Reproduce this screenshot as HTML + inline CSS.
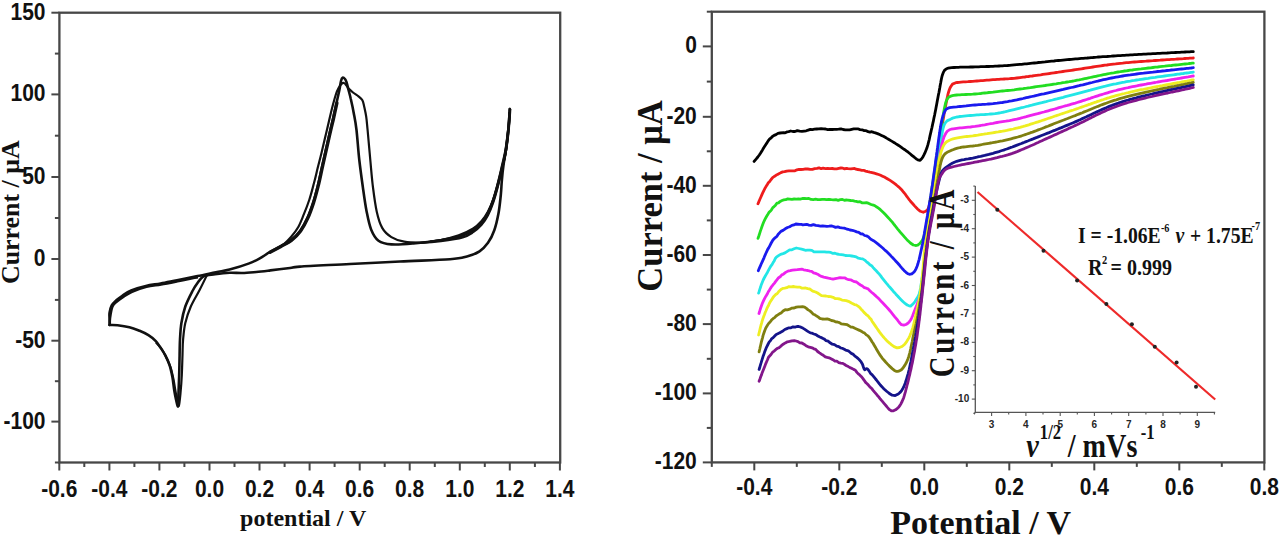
<!DOCTYPE html>
<html><head><meta charset="utf-8"><title>CV plots</title>
<style>
html,body{margin:0;padding:0;background:#fff;}
body{width:1280px;height:545px;overflow:hidden;}
svg{display:block;}
.tl{font-family:"Liberation Sans",sans-serif;font-weight:bold;font-size:21px;fill:#111;}
.ttl{font-family:"Liberation Serif",serif;font-weight:bold;fill:#111;}
.it{font-family:"Liberation Sans",sans-serif;font-weight:bold;font-size:10px;fill:#262626;}
</style></head>
<body>
<svg width="1280" height="545" viewBox="0 0 1280 545">
<rect width="1280" height="545" fill="#fff"/>
<rect x="59.4" y="12.7" width="500.8" height="449.8" fill="none" stroke="#474747" stroke-width="2.3"/>
<line x1="59.3" y1="462.5" x2="59.3" y2="470.5" stroke="#474747" stroke-width="2"/>
<text transform="translate(59.3 496.6) scale(1 1.14)" class="tl" text-anchor="middle">-0.6</text>
<line x1="84.3" y1="462.5" x2="84.3" y2="467.0" stroke="#474747" stroke-width="2"/>
<line x1="109.4" y1="462.5" x2="109.4" y2="470.5" stroke="#474747" stroke-width="2"/>
<text transform="translate(109.4 496.6) scale(1 1.14)" class="tl" text-anchor="middle">-0.4</text>
<line x1="134.4" y1="462.5" x2="134.4" y2="467.0" stroke="#474747" stroke-width="2"/>
<line x1="159.4" y1="462.5" x2="159.4" y2="470.5" stroke="#474747" stroke-width="2"/>
<text transform="translate(159.4 496.6) scale(1 1.14)" class="tl" text-anchor="middle">-0.2</text>
<line x1="184.4" y1="462.5" x2="184.4" y2="467.0" stroke="#474747" stroke-width="2"/>
<line x1="209.5" y1="462.5" x2="209.5" y2="470.5" stroke="#474747" stroke-width="2"/>
<text transform="translate(209.5 496.6) scale(1 1.14)" class="tl" text-anchor="middle">0.0</text>
<line x1="234.5" y1="462.5" x2="234.5" y2="467.0" stroke="#474747" stroke-width="2"/>
<line x1="259.5" y1="462.5" x2="259.5" y2="470.5" stroke="#474747" stroke-width="2"/>
<text transform="translate(259.5 496.6) scale(1 1.14)" class="tl" text-anchor="middle">0.2</text>
<line x1="284.6" y1="462.5" x2="284.6" y2="467.0" stroke="#474747" stroke-width="2"/>
<line x1="309.6" y1="462.5" x2="309.6" y2="470.5" stroke="#474747" stroke-width="2"/>
<text transform="translate(309.6 496.6) scale(1 1.14)" class="tl" text-anchor="middle">0.4</text>
<line x1="334.6" y1="462.5" x2="334.6" y2="467.0" stroke="#474747" stroke-width="2"/>
<line x1="359.7" y1="462.5" x2="359.7" y2="470.5" stroke="#474747" stroke-width="2"/>
<text transform="translate(359.7 496.6) scale(1 1.14)" class="tl" text-anchor="middle">0.6</text>
<line x1="384.7" y1="462.5" x2="384.7" y2="467.0" stroke="#474747" stroke-width="2"/>
<line x1="409.7" y1="462.5" x2="409.7" y2="470.5" stroke="#474747" stroke-width="2"/>
<text transform="translate(409.7 496.6) scale(1 1.14)" class="tl" text-anchor="middle">0.8</text>
<line x1="434.8" y1="462.5" x2="434.8" y2="467.0" stroke="#474747" stroke-width="2"/>
<line x1="459.8" y1="462.5" x2="459.8" y2="470.5" stroke="#474747" stroke-width="2"/>
<text transform="translate(459.8 496.6) scale(1 1.14)" class="tl" text-anchor="middle">1.0</text>
<line x1="484.8" y1="462.5" x2="484.8" y2="467.0" stroke="#474747" stroke-width="2"/>
<line x1="509.8" y1="462.5" x2="509.8" y2="470.5" stroke="#474747" stroke-width="2"/>
<text transform="translate(509.8 496.6) scale(1 1.14)" class="tl" text-anchor="middle">1.2</text>
<line x1="534.9" y1="462.5" x2="534.9" y2="467.0" stroke="#474747" stroke-width="2"/>
<line x1="559.9" y1="462.5" x2="559.9" y2="470.5" stroke="#474747" stroke-width="2"/>
<text transform="translate(559.9 496.6) scale(1 1.14)" class="tl" text-anchor="middle">1.4</text>
<line x1="51.4" y1="12.7" x2="59.4" y2="12.7" stroke="#474747" stroke-width="2"/>
<text transform="translate(45.5 19.6) scale(1 1.14)" class="tl" text-anchor="end">150</text>
<line x1="54.9" y1="53.6" x2="59.4" y2="53.6" stroke="#474747" stroke-width="2"/>
<line x1="51.4" y1="94.4" x2="59.4" y2="94.4" stroke="#474747" stroke-width="2"/>
<text transform="translate(45.5 101.3) scale(1 1.14)" class="tl" text-anchor="end">100</text>
<line x1="54.9" y1="135.7" x2="59.4" y2="135.7" stroke="#474747" stroke-width="2"/>
<line x1="51.4" y1="177.0" x2="59.4" y2="177.0" stroke="#474747" stroke-width="2"/>
<text transform="translate(45.5 183.9) scale(1 1.14)" class="tl" text-anchor="end">50</text>
<line x1="54.9" y1="218.0" x2="59.4" y2="218.0" stroke="#474747" stroke-width="2"/>
<line x1="51.4" y1="259.0" x2="59.4" y2="259.0" stroke="#474747" stroke-width="2"/>
<text transform="translate(45.5 265.9) scale(1 1.14)" class="tl" text-anchor="end">0</text>
<line x1="54.9" y1="299.9" x2="59.4" y2="299.9" stroke="#474747" stroke-width="2"/>
<line x1="51.4" y1="340.7" x2="59.4" y2="340.7" stroke="#474747" stroke-width="2"/>
<text transform="translate(45.5 347.6) scale(1 1.14)" class="tl" text-anchor="end">-50</text>
<line x1="54.9" y1="381.2" x2="59.4" y2="381.2" stroke="#474747" stroke-width="2"/>
<line x1="51.4" y1="421.6" x2="59.4" y2="421.6" stroke="#474747" stroke-width="2"/>
<text transform="translate(45.5 428.5) scale(1 1.14)" class="tl" text-anchor="end">-100</text>
<line x1="54.9" y1="462.5" x2="59.4" y2="462.5" stroke="#474747" stroke-width="2"/>
<text x="303.2" y="525.6" class="ttl" font-size="24" text-anchor="middle">potential / V</text>
<text transform="translate(18.5 212.2) rotate(-90)" class="ttl" font-size="25.9" text-anchor="middle">Current / &#956;A</text>
<path d="M509.8 109.0 C509.6 112.2 509.1 121.2 508.5 128.0 C507.9 134.8 506.7 143.8 505.9 150.0 C505.1 156.2 504.2 160.0 503.5 165.0 C502.8 170.0 502.3 175.0 501.9 180.0 C501.4 185.0 501.4 189.4 500.8 195.0 C500.2 200.6 499.6 207.4 498.5 213.3 C497.4 219.2 496.1 225.3 494.3 230.2 C492.6 235.1 490.5 239.3 488.0 242.8 C485.5 246.3 483.0 249.0 479.5 251.3 C476.0 253.6 471.8 255.2 466.9 256.5 C462.0 257.8 461.1 258.5 450.0 259.3 C438.9 260.1 416.7 260.7 400.0 261.5 C383.3 262.3 366.7 263.1 350.0 264.0 C333.3 264.9 310.0 265.9 300.0 266.6 C290.0 267.3 294.9 267.4 290.0 268.0 C285.1 268.6 275.9 269.7 270.3 270.4 C264.7 271.1 261.0 271.6 256.3 272.0 C251.6 272.4 246.6 272.9 242.2 273.0 C237.8 273.1 234.1 272.6 229.6 272.8 C225.1 273.0 219.3 273.7 215.0 274.3 C210.7 274.9 206.4 274.9 203.5 276.3 C200.6 277.8 199.3 280.6 197.5 283.0 C195.7 285.4 194.5 287.1 192.5 291.0 C190.5 294.9 187.2 301.2 185.3 306.5 C183.5 311.8 182.3 317.5 181.4 323.0 C180.5 328.5 180.3 334.2 180.0 339.5 C179.7 344.8 179.7 349.9 179.6 355.0 C179.5 360.1 179.4 365.0 179.3 370.0 C179.2 375.0 179.0 380.3 178.8 385.0 C178.6 389.7 178.4 394.4 178.3 398.0 C178.2 401.6 178.4 406.3 178.0 406.5 C177.6 406.7 176.5 401.8 175.9 399.0 C175.3 396.2 174.8 393.7 174.2 390.0 C173.6 386.3 173.2 381.1 172.4 377.0 C171.6 372.9 170.8 368.9 169.6 365.3 C168.4 361.8 167.0 358.6 165.5 355.7 C164.0 352.8 162.2 350.2 160.6 347.8 C159.0 345.4 157.8 343.2 155.8 341.1 C153.8 339.0 151.1 336.9 148.4 335.2 C145.7 333.5 142.8 332.1 139.6 330.8 C136.4 329.5 133.1 328.1 129.4 327.2 C125.7 326.3 120.9 325.6 117.6 325.2 C114.3 324.8 110.8 325.0 109.5 325.0" fill="none" stroke="#111" stroke-width="2.6" stroke-linejoin="round" stroke-linecap="round"/>
<path d="M109.5 325.0 C109.5 323.8 109.5 320.1 109.5 318.0 C109.5 315.9 109.2 314.6 109.6 312.5 C110.0 310.4 110.6 307.5 111.7 305.5 C112.8 303.5 114.4 302.1 116.1 300.5 C117.8 298.9 119.5 297.7 122.0 296.0 C124.5 294.3 127.2 292.1 131.2 290.4 C135.2 288.7 141.0 287.0 145.9 285.9 C150.8 284.8 155.4 284.4 160.6 283.5 C165.8 282.6 170.8 281.5 177.0 280.3 C183.2 279.1 191.0 277.5 197.5 276.1 C204.0 274.8 210.6 273.3 215.9 272.2 C221.2 271.1 224.1 271.1 229.6 269.6 C235.1 268.1 244.2 265.3 249.2 263.4 C254.2 261.5 256.4 260.3 259.8 258.4 C263.2 256.5 266.2 254.2 269.7 252.2 C273.1 250.2 276.9 248.4 280.5 246.4 C284.1 244.4 287.7 243.0 291.0 240.4 C294.3 237.8 297.4 234.8 300.2 231.0 C302.9 227.2 305.4 222.5 307.5 217.9 C309.6 213.3 311.3 208.4 313.0 203.2 C314.7 198.0 316.2 192.2 317.6 186.7 C319.0 181.2 320.1 175.7 321.3 170.2 C322.5 164.7 323.7 159.4 325.0 153.7 C326.3 148.0 327.7 141.8 329.0 136.0 C330.3 130.2 331.8 124.5 333.0 119.0 C334.2 113.5 335.4 107.8 336.5 103.0 C337.6 98.2 338.6 93.7 339.4 90.0 C340.1 86.3 340.5 83.0 341.0 81.0 C341.5 79.0 341.9 78.0 342.6 77.7 C343.3 77.4 344.3 78.2 345.0 79.0 C345.7 79.8 346.0 80.8 346.6 82.5 C347.2 84.2 347.7 86.8 348.4 89.5 C349.1 92.2 349.9 94.8 350.8 99.0 C351.8 103.2 353.2 109.8 354.1 115.0 C355.1 120.2 355.6 122.5 356.5 130.0 C357.4 137.5 358.2 150.4 359.3 160.0 C360.4 169.6 361.7 178.9 362.9 187.5 C364.1 196.1 365.2 204.4 366.6 211.4 C368.0 218.4 369.2 224.8 371.2 229.7 C373.2 234.6 375.1 238.2 378.5 240.7 C381.9 243.1 385.6 243.9 391.4 244.4 C397.2 244.9 405.1 244.2 413.4 243.5 C421.6 242.8 432.7 241.5 440.9 240.2 C449.1 238.8 457.3 237.0 462.7 235.4 C468.1 233.8 470.0 232.6 473.2 230.5 C476.4 228.4 479.1 225.9 481.6 223.0 C484.1 220.1 486.1 217.0 488.0 213.3 C489.9 209.6 491.6 205.2 493.2 200.6 C494.8 196.0 496.1 191.2 497.5 185.9 C498.9 180.6 500.3 175.0 501.7 169.0 C503.1 163.0 504.8 156.8 505.9 150.0 C507.0 143.2 507.9 134.8 508.5 128.0 C509.1 121.2 509.6 112.2 509.8 109.0" fill="none" stroke="#111" stroke-width="2.6" stroke-linejoin="round" stroke-linecap="round"/>
<path d="M276.0 249.4 C277.3 248.5 281.5 246.1 284.0 244.0 C286.5 241.9 288.6 239.8 291.0 237.0 C293.4 234.2 296.2 230.8 298.3 227.0 C300.4 223.2 302.0 218.8 303.9 214.2 C305.8 209.6 307.7 204.7 309.4 199.5 C311.1 194.3 312.6 188.2 314.0 183.0 C315.4 177.8 316.4 173.2 317.6 168.3 C318.8 163.4 320.1 158.8 321.3 153.7 C322.5 148.6 323.7 143.4 325.0 138.0 C326.3 132.6 327.7 126.6 329.0 121.0 C330.3 115.4 331.8 109.0 333.0 104.5 C334.2 100.0 335.1 96.8 336.0 94.0 C336.9 91.2 337.7 89.7 338.6 88.0 C339.5 86.3 340.6 84.8 341.5 84.0 C342.4 83.2 343.2 82.8 344.0 83.0 C344.8 83.2 345.7 84.6 346.5 85.5 C347.3 86.4 347.5 87.4 348.6 88.6 C349.7 89.8 351.4 91.2 353.0 92.5 C354.6 93.8 356.9 95.1 358.5 96.4 C360.1 97.7 361.5 98.7 362.4 100.2 C363.3 101.8 363.4 103.0 364.0 105.7 C364.6 108.5 365.6 112.7 366.2 116.7 C366.8 120.8 366.9 122.8 367.6 130.0 C368.3 137.2 369.4 150.4 370.3 160.0 C371.2 169.6 371.9 178.9 373.0 187.5 C374.1 196.1 375.2 204.7 376.7 211.4 C378.2 218.1 379.8 223.6 382.2 227.9 C384.6 232.2 387.7 234.8 391.4 237.1 C395.1 239.4 399.0 240.8 404.2 241.7 C409.4 242.6 416.5 242.7 422.6 242.6 C428.7 242.5 434.2 242.1 440.9 241.2 C447.6 240.3 457.3 238.9 462.7 237.4 C468.1 235.9 470.0 234.3 473.2 232.2 C476.4 230.1 479.1 227.6 481.6 224.8 C484.1 222.0 486.1 219.0 488.0 215.3 C489.9 211.6 491.6 207.2 493.2 202.6 C494.8 198.0 496.1 193.2 497.5 187.9 C498.9 182.6 500.3 177.2 501.7 171.0 C503.1 164.8 504.7 158.7 505.9 151.0 C507.1 143.3 508.1 131.5 508.8 125.0 C509.5 118.5 509.6 114.2 509.8 112.0" fill="none" stroke="#111" stroke-width="2.2" stroke-linejoin="round"/>
<path d="M207.0 275.0 C205.8 277.5 202.3 284.8 199.6 290.0 C196.9 295.2 193.2 301.0 190.8 306.5 C188.4 312.0 186.6 317.5 185.3 323.0 C184.0 328.5 183.6 334.2 183.1 339.5 C182.6 344.8 182.7 349.1 182.5 355.0 C182.3 360.9 182.1 368.8 181.8 375.0 C181.5 381.2 181.1 386.8 180.6 392.0 C180.1 397.2 179.4 405.0 178.8 406.0 C178.2 407.0 177.4 400.8 176.8 398.0 C176.2 395.2 175.7 392.3 175.1 389.0 C174.5 385.7 174.0 381.7 173.2 378.0 C172.4 374.3 171.7 370.4 170.5 367.0 C169.3 363.6 167.6 360.4 166.2 357.5 C164.8 354.6 163.7 352.0 162.0 349.5 C160.3 347.0 157.0 343.7 156.0 342.5" fill="none" stroke="#111" stroke-width="2.2" stroke-linejoin="round"/>
<path d="M110.0 324.5 C110.0 323.4 109.8 321.0 110.2 318.0 C110.6 315.0 111.5 309.2 112.6 306.5 C113.7 303.8 115.3 303.2 117.0 301.7 C118.7 300.2 120.5 298.9 123.0 297.3 C125.5 295.7 128.1 293.7 132.0 292.0 C135.9 290.3 141.7 288.2 146.5 287.0 C151.3 285.8 155.8 285.5 161.0 284.6 C166.2 283.7 171.3 282.7 177.5 281.5 C183.7 280.3 194.6 278.0 198.0 277.3" fill="none" stroke="#111" stroke-width="2.2" stroke-linejoin="round"/>
<path d="M420.0 243.0 C423.5 242.5 434.4 241.3 440.9 240.0 C447.3 238.7 453.3 237.2 458.7 235.3 C464.1 233.4 469.4 230.9 473.2 228.5 C477.0 226.1 479.1 223.8 481.6 221.0 C484.1 218.2 486.0 215.2 488.0 211.5 C490.0 207.8 491.9 203.2 493.6 198.6 C495.3 194.0 496.6 189.2 498.0 183.9 C499.4 178.6 500.9 173.0 502.3 167.0 C503.7 161.0 505.4 154.7 506.5 148.0 C507.6 141.3 508.4 133.5 509.0 127.0 C509.6 120.5 510.1 112.0 510.3 109.0" fill="none" stroke="#111" stroke-width="2.2" stroke-linejoin="round"/>
<path d="M430.0 241.5 C433.3 241.0 444.6 239.7 450.0 238.5 C455.4 237.3 458.8 236.1 462.7 234.6 C466.6 233.1 470.0 231.5 473.2 229.4 C476.4 227.3 479.1 224.8 481.6 222.0 C484.1 219.2 486.1 216.0 488.0 212.3 C489.9 208.6 491.5 204.2 493.0 199.6 C494.5 195.0 495.8 190.3 497.2 185.0 C498.6 179.7 499.9 174.0 501.3 168.0 C502.7 162.0 504.4 155.7 505.5 149.0 C506.6 142.3 507.5 134.2 508.2 128.0 C508.9 121.8 509.4 114.7 509.6 112.0" fill="none" stroke="#111" stroke-width="2.0"/>
<path d="M270.1 252.2 C271.9 251.2 277.3 248.4 280.9 246.4 C284.4 244.4 288.1 243.0 291.4 240.4 C294.7 237.8 297.8 234.8 300.6 231.0 C303.3 227.2 305.8 222.5 307.9 217.9 C310.0 213.3 311.7 208.4 313.4 203.2 C315.1 198.0 316.6 192.2 318.0 186.7 C319.4 181.2 320.5 175.7 321.7 170.2 C322.9 164.7 324.1 159.4 325.4 153.7 C326.7 148.0 328.1 141.8 329.4 136.0 C330.7 130.2 332.1 124.5 333.4 119.0 C334.6 113.5 336.3 105.7 336.9 103.0" fill="none" stroke="#111" stroke-width="3.4" stroke-linecap="round"/>
<rect x="711.8" y="11.7" width="552.6" height="450.7" fill="none" stroke="#474747" stroke-width="2.3"/>
<line x1="711.8" y1="462.4" x2="711.8" y2="466.9" stroke="#474747" stroke-width="2"/>
<line x1="754.3" y1="462.4" x2="754.3" y2="470.4" stroke="#474747" stroke-width="2"/>
<text transform="translate(754.3 494.6) scale(1 1.14)" class="tl" text-anchor="middle">-0.4</text>
<line x1="796.8" y1="462.4" x2="796.8" y2="466.9" stroke="#474747" stroke-width="2"/>
<line x1="839.3" y1="462.4" x2="839.3" y2="470.4" stroke="#474747" stroke-width="2"/>
<text transform="translate(839.3 494.6) scale(1 1.14)" class="tl" text-anchor="middle">-0.2</text>
<line x1="881.8" y1="462.4" x2="881.8" y2="466.9" stroke="#474747" stroke-width="2"/>
<line x1="924.3" y1="462.4" x2="924.3" y2="470.4" stroke="#474747" stroke-width="2"/>
<text transform="translate(924.3 494.6) scale(1 1.14)" class="tl" text-anchor="middle">0.0</text>
<line x1="966.8" y1="462.4" x2="966.8" y2="466.9" stroke="#474747" stroke-width="2"/>
<line x1="1009.3" y1="462.4" x2="1009.3" y2="470.4" stroke="#474747" stroke-width="2"/>
<text transform="translate(1009.3 494.6) scale(1 1.14)" class="tl" text-anchor="middle">0.2</text>
<line x1="1051.8" y1="462.4" x2="1051.8" y2="466.9" stroke="#474747" stroke-width="2"/>
<line x1="1094.3" y1="462.4" x2="1094.3" y2="470.4" stroke="#474747" stroke-width="2"/>
<text transform="translate(1094.3 494.6) scale(1 1.14)" class="tl" text-anchor="middle">0.4</text>
<line x1="1136.8" y1="462.4" x2="1136.8" y2="466.9" stroke="#474747" stroke-width="2"/>
<line x1="1179.3" y1="462.4" x2="1179.3" y2="470.4" stroke="#474747" stroke-width="2"/>
<text transform="translate(1179.3 494.6) scale(1 1.14)" class="tl" text-anchor="middle">0.6</text>
<line x1="1221.8" y1="462.4" x2="1221.8" y2="466.9" stroke="#474747" stroke-width="2"/>
<line x1="1264.3" y1="462.4" x2="1264.3" y2="470.4" stroke="#474747" stroke-width="2"/>
<text transform="translate(1264.3 494.6) scale(1 1.14)" class="tl" text-anchor="middle">0.8</text>
<line x1="706.8" y1="11.7" x2="711.8" y2="11.7" stroke="#474747" stroke-width="2"/>
<line x1="702.8" y1="46.4" x2="711.8" y2="46.4" stroke="#474747" stroke-width="2"/>
<text transform="translate(696.8 53.3) scale(1 1.14)" class="tl" text-anchor="end">0</text>
<line x1="706.8" y1="81.6" x2="711.8" y2="81.6" stroke="#474747" stroke-width="2"/>
<line x1="702.8" y1="116.8" x2="711.8" y2="116.8" stroke="#474747" stroke-width="2"/>
<text transform="translate(696.8 123.7) scale(1 1.14)" class="tl" text-anchor="end">-20</text>
<line x1="706.8" y1="151.3" x2="711.8" y2="151.3" stroke="#474747" stroke-width="2"/>
<line x1="702.8" y1="185.8" x2="711.8" y2="185.8" stroke="#474747" stroke-width="2"/>
<text transform="translate(696.8 192.8) scale(1 1.14)" class="tl" text-anchor="end">-40</text>
<line x1="706.8" y1="220.4" x2="711.8" y2="220.4" stroke="#474747" stroke-width="2"/>
<line x1="702.8" y1="255.0" x2="711.8" y2="255.0" stroke="#474747" stroke-width="2"/>
<text transform="translate(696.8 261.9) scale(1 1.14)" class="tl" text-anchor="end">-60</text>
<line x1="706.8" y1="289.6" x2="711.8" y2="289.6" stroke="#474747" stroke-width="2"/>
<line x1="702.8" y1="324.1" x2="711.8" y2="324.1" stroke="#474747" stroke-width="2"/>
<text transform="translate(696.8 331.0) scale(1 1.14)" class="tl" text-anchor="end">-80</text>
<line x1="706.8" y1="358.8" x2="711.8" y2="358.8" stroke="#474747" stroke-width="2"/>
<line x1="702.8" y1="393.4" x2="711.8" y2="393.4" stroke="#474747" stroke-width="2"/>
<text transform="translate(696.8 400.3) scale(1 1.14)" class="tl" text-anchor="end">-100</text>
<line x1="706.8" y1="427.9" x2="711.8" y2="427.9" stroke="#474747" stroke-width="2"/>
<line x1="702.8" y1="462.4" x2="711.8" y2="462.4" stroke="#474747" stroke-width="2"/>
<text transform="translate(696.8 469.3) scale(1 1.14)" class="tl" text-anchor="end">-120</text>
<text x="980.7" y="533.6" class="ttl" font-size="34" text-anchor="middle">Potential / V</text>
<text transform="translate(661.8 196.0) rotate(-90) scale(1 1.03)" class="ttl" font-size="34.5" text-anchor="middle">Current / &#956;A</text>
<path d="M754.1 161.4 L755.0 160.3 L756.3 158.8 L757.8 157.0 L759.3 155.0 L760.3 153.5 L761.4 151.7 L762.5 149.9 L763.6 148.0 L764.7 146.3 L765.7 144.7 L767.1 142.6 L768.3 140.7 L769.5 139.2 L770.8 138.2 L772.4 136.5 L774.1 135.4 L776.0 134.6 L777.9 133.4 L780.1 133.0 L783.7 132.7 L785.2 132.8 L786.9 131.9 L788.7 131.6 L790.7 131.0 L792.8 131.5 L795.0 131.5 L797.3 130.6 L799.6 131.2 L801.9 131.4 L804.2 131.1 L806.2 130.8 L808.2 130.1 L810.3 129.4 L812.4 129.7 L814.5 129.2 L816.7 129.0 L818.9 128.9 L821.1 128.6 L823.4 128.9 L825.6 129.0 L827.7 129.6 L829.9 129.4 L832.1 129.5 L834.3 129.3 L836.5 129.4 L838.7 129.2 L840.9 128.8 L843.1 129.5 L845.3 129.8 L847.5 129.9 L849.6 129.8 L851.7 129.3 L853.7 128.9 L855.6 128.9 L857.8 128.8 L860.0 129.6 L862.1 129.8 L864.2 130.6 L866.1 130.7 L868.1 131.6 L870.0 132.1 L871.8 131.7 L873.6 132.4 L875.4 132.9 L877.5 133.6 L879.6 134.5 L881.5 135.4 L883.4 136.3 L885.2 137.3 L887.0 138.4 L888.9 139.5 L890.8 140.6 L892.5 141.6 L894.3 142.7 L896.1 143.9 L897.9 145.0 L899.7 146.2 L901.4 147.4 L903.1 148.6 L904.8 149.7 L906.3 150.8 L908.2 152.2 L910.1 153.8 L911.9 155.3 L913.6 156.7 L915.2 158.0 L916.6 159.1 L917.8 159.8 L920.1 160.4 L921.7 158.6 L922.7 157.2 L923.7 155.4 L924.8 153.2 L925.8 150.8 L926.8 148.3 L927.4 146.4 L928.0 144.4 L928.5 142.3 L929.1 140.1 L929.6 137.8 L930.1 135.4 L930.7 132.9 L931.1 131.1 L931.5 129.3 L932.0 127.3 L932.4 125.4 L932.8 123.4 L933.3 121.4 L933.7 119.3 L934.1 117.2 L934.6 115.1 L935.0 113.0 L935.4 111.0 L935.8 109.0 L936.2 106.8 L936.6 104.7 L937.0 102.5 L937.4 100.3 L937.8 98.2 L938.2 96.1 L938.6 94.1 L939.0 92.2 L939.3 90.4 L939.8 87.7 L940.2 85.2 L940.7 82.8 L941.1 80.6 L941.5 78.5 L941.9 76.7 L942.4 75.0 L943.5 72.1 L944.6 70.2 L946.5 68.8 L948.0 68.2 L949.8 67.9 L951.7 67.7 L954.0 67.5 L956.7 67.4 L958.4 67.3 L960.1 67.2 L962.1 67.2 L964.1 67.1 L966.2 67.1 L968.3 67.1 L970.5 67.0 L972.8 67.0 L975.0 66.9 L976.9 66.8 L978.8 66.8 L980.7 66.7 L982.7 66.7 L984.7 66.6 L986.8 66.5 L988.8 66.5 L990.9 66.4 L993.0 66.3 L995.0 66.2 L997.1 66.1 L999.0 66.0 L1000.8 65.9 L1002.5 65.8 L1004.2 65.7 L1005.8 65.6 L1007.6 65.5 L1009.5 65.3 L1011.7 65.1 L1014.1 64.9 L1016.8 64.7 L1020.0 64.4 L1021.5 64.3 L1023.1 64.1 L1024.8 63.9 L1026.6 63.8 L1028.5 63.6 L1030.4 63.4 L1032.3 63.2 L1034.3 63.0 L1036.4 62.8 L1038.5 62.5 L1040.7 62.3 L1042.8 62.1 L1045.0 61.9 L1047.2 61.6 L1049.5 61.4 L1051.7 61.2 L1054.0 61.0 L1056.2 60.7 L1058.4 60.5 L1060.7 60.3 L1062.9 60.1 L1065.1 59.9 L1067.2 59.7 L1069.3 59.5 L1071.4 59.3 L1073.4 59.1 L1075.5 58.9 L1077.4 58.8 L1079.4 58.6 L1081.4 58.4 L1083.3 58.3 L1085.2 58.1 L1087.2 58.0 L1089.1 57.8 L1091.0 57.6 L1092.9 57.5 L1094.9 57.3 L1096.8 57.2 L1098.8 57.0 L1100.8 56.9 L1102.8 56.7 L1104.9 56.6 L1106.9 56.5 L1109.1 56.3 L1111.2 56.2 L1113.4 56.0 L1115.6 55.9 L1117.9 55.7 L1120.3 55.6 L1122.7 55.4 L1124.5 55.3 L1126.4 55.2 L1128.3 55.1 L1130.3 54.9 L1132.4 54.8 L1134.5 54.7 L1136.7 54.6 L1138.9 54.4 L1141.2 54.3 L1143.5 54.2 L1145.9 54.1 L1148.2 53.9 L1150.6 53.8 L1152.9 53.7 L1155.3 53.6 L1157.7 53.4 L1160.0 53.3 L1162.4 53.2 L1164.7 53.1 L1167.0 53.0 L1169.2 52.8 L1171.4 52.7 L1173.6 52.6 L1175.7 52.5 L1177.7 52.4 L1179.7 52.3 L1181.6 52.2 L1183.4 52.1 L1185.1 52.0 L1186.8 51.9 L1188.3 51.9 L1189.7 51.8 L1191.0 51.7 L1192.2 51.7 L1193.3 51.6" fill="none" stroke="#000000" stroke-width="2.8" stroke-linejoin="round" stroke-linecap="round"/>
<path d="M758.0 203.8 L758.5 202.6 L759.1 201.1 L759.9 199.3 L760.8 197.2 L761.7 195.1 L762.7 192.9 L763.7 190.8 L764.7 188.8 L765.7 187.1 L767.0 185.1 L768.3 182.8 L769.7 181.4 L771.1 179.5 L772.6 177.7 L774.2 176.5 L776.0 175.3 L777.6 174.4 L779.2 173.6 L780.9 172.6 L782.7 171.9 L784.6 171.7 L786.7 171.1 L788.9 170.9 L791.4 170.8 L793.2 170.8 L795.0 170.8 L797.0 169.8 L799.0 169.3 L801.1 169.5 L803.3 169.4 L805.5 168.8 L807.8 169.0 L810.1 169.3 L812.4 169.4 L814.7 168.7 L817.1 168.4 L819.0 167.8 L821.1 168.7 L823.2 168.2 L825.4 168.6 L827.7 168.5 L830.0 168.6 L832.2 168.5 L834.5 168.9 L836.7 168.8 L838.8 168.4 L840.9 168.0 L842.9 168.2 L844.7 168.9 L846.4 168.3 L847.9 168.7 L850.9 168.9 L853.0 168.6 L854.6 168.5 L856.0 169.2 L857.7 169.5 L860.0 169.9 L861.7 170.3 L863.6 170.3 L865.6 171.1 L867.8 171.7 L869.9 172.2 L872.1 172.6 L874.3 173.2 L876.5 173.8 L878.6 174.5 L880.6 175.3 L882.5 176.2 L884.4 177.1 L886.4 178.2 L888.2 179.3 L890.1 180.4 L891.9 181.6 L893.7 182.9 L895.4 184.1 L897.0 185.5 L898.6 186.8 L900.1 188.2 L901.6 189.7 L902.9 191.4 L904.3 193.0 L905.6 194.7 L906.8 196.4 L908.0 198.0 L909.2 199.6 L910.3 201.0 L911.4 202.3 L913.2 204.3 L914.8 206.1 L916.4 207.8 L917.8 209.2 L919.2 210.4 L920.4 211.3 L923.3 212.3 L925.6 211.3 L926.9 210.5 L928.1 208.9 L929.4 204.8 L929.7 203.5 L930.0 202.1 L930.3 200.5 L930.6 198.8 L931.0 197.0 L931.3 195.0 L931.6 193.0 L932.0 190.9 L932.3 188.8 L932.7 186.6 L933.0 184.3 L933.4 182.0 L933.8 179.7 L934.1 177.3 L934.5 175.0 L934.8 173.2 L935.1 171.4 L935.4 169.5 L935.7 167.5 L935.9 165.5 L936.2 163.5 L936.6 161.4 L936.9 159.3 L937.2 157.2 L937.5 155.1 L937.8 153.0 L938.1 150.8 L938.4 148.7 L938.7 146.7 L939.0 144.6 L939.3 142.6 L939.6 140.6 L939.9 138.7 L940.2 136.8 L940.5 135.0 L940.9 132.6 L941.3 130.3 L941.7 127.9 L942.1 125.6 L942.5 123.3 L942.9 121.0 L943.3 118.8 L943.7 116.7 L944.0 114.6 L944.4 112.6 L944.8 110.7 L945.1 108.8 L945.4 107.1 L945.7 105.5 L946.0 104.0 L946.6 100.8 L947.1 98.4 L947.5 96.4 L947.8 94.9 L948.2 93.4 L948.6 92.0 L949.4 89.5 L950.2 87.6 L951.2 86.0 L952.5 84.1 L955.8 82.7 L957.3 82.5 L959.0 82.3 L961.0 82.1 L963.2 81.9 L965.5 81.8 L967.8 81.7 L970.3 81.5 L972.7 81.4 L975.0 81.2 L976.9 81.0 L978.8 80.9 L980.8 80.7 L982.8 80.6 L984.8 80.4 L986.8 80.2 L988.9 80.1 L990.9 79.9 L993.0 79.7 L995.0 79.6 L997.1 79.4 L999.0 79.3 L1000.8 79.1 L1002.5 79.1 L1004.2 79.0 L1005.8 78.9 L1007.6 78.8 L1009.5 78.7 L1011.7 78.5 L1014.1 78.3 L1016.8 78.0 L1020.0 77.6 L1021.5 77.4 L1023.1 77.2 L1024.8 77.0 L1026.6 76.7 L1028.5 76.5 L1030.4 76.2 L1032.3 76.0 L1034.3 75.7 L1036.4 75.4 L1038.5 75.1 L1040.7 74.8 L1042.8 74.4 L1045.0 74.1 L1047.2 73.8 L1049.5 73.5 L1051.7 73.1 L1054.0 72.8 L1056.2 72.5 L1058.4 72.2 L1060.7 71.8 L1062.9 71.5 L1065.1 71.2 L1067.2 70.9 L1069.3 70.6 L1071.4 70.3 L1073.4 70.0 L1075.5 69.7 L1077.4 69.4 L1079.4 69.1 L1081.4 68.8 L1083.3 68.5 L1085.2 68.2 L1087.2 67.9 L1089.1 67.6 L1091.0 67.3 L1092.9 67.0 L1094.9 66.7 L1096.8 66.4 L1098.8 66.1 L1100.8 65.8 L1102.8 65.5 L1104.9 65.2 L1106.9 65.0 L1109.1 64.7 L1111.2 64.4 L1113.4 64.1 L1115.6 63.9 L1117.9 63.6 L1120.3 63.3 L1122.7 63.1 L1124.5 62.9 L1126.4 62.7 L1128.3 62.6 L1130.3 62.4 L1132.4 62.2 L1134.5 62.0 L1136.7 61.9 L1138.9 61.7 L1141.2 61.5 L1143.5 61.3 L1145.9 61.2 L1148.2 61.0 L1150.6 60.8 L1152.9 60.7 L1155.3 60.5 L1157.7 60.3 L1160.0 60.2 L1162.4 60.0 L1164.7 59.9 L1167.0 59.7 L1169.2 59.6 L1171.4 59.4 L1173.6 59.3 L1175.7 59.2 L1177.7 59.0 L1179.7 58.9 L1181.6 58.8 L1183.4 58.7 L1185.1 58.5 L1186.8 58.4 L1188.3 58.3 L1189.7 58.2 L1191.0 58.2 L1192.2 58.1 L1193.3 58.0" fill="none" stroke="#ee1c1c" stroke-width="2.8" stroke-linejoin="round" stroke-linecap="round"/>
<path d="M758.0 238.4 L758.4 237.2 L759.0 235.5 L759.6 233.6 L760.3 231.4 L761.1 229.1 L761.9 226.7 L762.8 224.3 L763.7 222.0 L764.7 219.8 L765.7 217.9 L766.8 216.1 L767.9 214.3 L769.0 212.4 L770.2 211.3 L771.5 209.8 L772.8 207.6 L774.1 206.6 L775.5 205.2 L777.0 203.2 L778.5 202.9 L780.2 201.4 L782.0 200.5 L783.8 199.9 L785.7 199.7 L787.7 198.9 L789.7 199.1 L791.9 199.3 L794.1 199.0 L796.5 199.1 L798.4 198.9 L800.3 199.1 L802.4 198.5 L804.5 198.5 L806.7 198.7 L808.9 198.4 L811.1 199.4 L813.3 199.6 L815.6 199.2 L817.8 199.6 L820.0 199.7 L822.2 199.4 L824.4 199.3 L826.6 199.6 L828.9 199.3 L831.3 199.7 L833.6 199.9 L835.9 199.6 L838.2 200.3 L840.3 199.7 L842.4 199.5 L844.4 200.3 L846.2 200.0 L847.9 200.1 L850.7 200.5 L852.8 200.7 L854.6 201.1 L856.2 201.4 L857.9 201.8 L860.0 201.7 L862.0 202.8 L864.2 202.8 L866.5 202.7 L868.8 203.4 L871.1 204.5 L873.3 205.1 L875.4 206.1 L877.1 207.2 L878.8 208.4 L880.4 209.7 L882.0 211.2 L883.6 212.7 L885.1 214.3 L886.7 216.0 L888.3 217.7 L889.6 219.1 L890.9 220.6 L892.3 222.2 L893.6 223.9 L894.9 225.5 L896.2 227.2 L897.5 228.8 L898.8 230.3 L900.0 231.8 L901.1 233.1 L902.9 235.2 L904.6 237.1 L906.2 238.9 L907.7 240.5 L909.1 241.8 L910.4 243.0 L913.3 245.0 L915.6 245.5 L917.7 245.2 L919.8 243.5 L920.9 242.2 L922.1 240.7 L923.2 238.5 L924.3 235.5 L924.7 234.0 L925.1 232.5 L925.4 230.9 L925.7 229.1 L926.1 227.2 L926.4 225.2 L926.7 223.0 L927.1 220.5 L927.5 217.9 L928.0 215.0 L928.2 213.4 L928.5 211.8 L928.8 210.1 L929.1 208.2 L929.3 206.4 L929.6 204.4 L929.9 202.4 L930.2 200.4 L930.5 198.3 L930.9 196.2 L931.2 194.1 L931.5 191.9 L931.8 189.8 L932.1 187.6 L932.4 185.5 L932.8 183.3 L933.1 181.2 L933.4 179.1 L933.7 177.0 L934.0 175.0 L934.3 173.0 L934.6 170.9 L934.9 168.9 L935.2 166.8 L935.5 164.7 L935.8 162.6 L936.2 160.5 L936.5 158.4 L936.8 156.3 L937.1 154.2 L937.4 152.1 L937.7 150.1 L938.0 148.0 L938.3 146.0 L938.6 144.1 L938.9 142.2 L939.2 140.3 L939.5 138.5 L939.7 136.7 L940.0 135.0 L940.4 132.4 L940.8 129.9 L941.2 127.5 L941.6 125.1 L941.9 122.8 L942.3 120.6 L942.6 118.5 L943.0 116.4 L943.3 114.5 L943.6 112.7 L943.9 111.0 L944.2 109.4 L944.5 108.0 L945.3 104.4 L945.8 102.2 L946.4 100.8 L947.0 99.5 L948.2 97.6 L950.0 96.5 L951.5 95.9 L953.5 95.4 L956.7 95.0 L958.2 94.9 L959.9 94.8 L961.8 94.7 L963.8 94.6 L966.0 94.5 L968.2 94.4 L970.5 94.3 L972.7 94.2 L975.0 94.0 L976.9 93.8 L978.8 93.7 L980.7 93.5 L982.7 93.2 L984.7 93.0 L986.8 92.8 L988.8 92.5 L990.9 92.3 L993.0 92.1 L995.0 91.8 L997.1 91.6 L999.0 91.4 L1000.8 91.2 L1002.5 91.0 L1004.2 90.9 L1005.8 90.7 L1007.6 90.5 L1009.5 90.3 L1011.7 90.1 L1014.1 89.8 L1016.8 89.4 L1020.0 89.0 L1021.5 88.8 L1023.1 88.6 L1024.8 88.3 L1026.6 88.1 L1028.5 87.8 L1030.4 87.6 L1032.3 87.3 L1034.3 87.0 L1036.4 86.7 L1038.5 86.4 L1040.7 86.1 L1042.8 85.8 L1045.0 85.5 L1047.2 85.1 L1049.5 84.8 L1051.7 84.5 L1054.0 84.1 L1056.2 83.8 L1058.4 83.4 L1060.7 83.1 L1062.9 82.7 L1065.1 82.4 L1067.2 82.0 L1069.3 81.7 L1071.4 81.3 L1073.4 81.0 L1075.3 80.6 L1077.2 80.2 L1079.1 79.9 L1081.0 79.5 L1082.8 79.1 L1084.7 78.7 L1086.6 78.3 L1088.4 77.9 L1090.3 77.5 L1092.1 77.1 L1094.0 76.7 L1095.9 76.3 L1097.7 75.9 L1099.6 75.5 L1101.6 75.1 L1103.5 74.7 L1105.5 74.3 L1107.5 73.9 L1109.5 73.5 L1111.6 73.1 L1113.7 72.8 L1115.9 72.4 L1118.1 72.0 L1120.4 71.7 L1122.7 71.3 L1124.5 71.0 L1126.4 70.8 L1128.3 70.5 L1130.3 70.2 L1132.4 70.0 L1134.5 69.7 L1136.7 69.4 L1138.9 69.1 L1141.2 68.9 L1143.5 68.6 L1145.9 68.3 L1148.2 68.0 L1150.6 67.8 L1152.9 67.5 L1155.3 67.2 L1157.7 67.0 L1160.0 66.7 L1162.4 66.4 L1164.7 66.2 L1167.0 65.9 L1169.2 65.7 L1171.4 65.5 L1173.6 65.2 L1175.7 65.0 L1177.7 64.8 L1179.7 64.6 L1181.6 64.4 L1183.4 64.2 L1185.1 64.0 L1186.8 63.8 L1188.3 63.7 L1189.7 63.5 L1191.0 63.4 L1192.2 63.2 L1193.3 63.1" fill="none" stroke="#22dd22" stroke-width="2.8" stroke-linejoin="round" stroke-linecap="round"/>
<path d="M758.6 293.1 L759.1 291.7 L759.7 289.6 L760.5 287.3 L761.3 284.7 L762.3 282.2 L763.2 280.0 L764.2 278.0 L765.3 276.0 L766.4 274.1 L767.5 272.2 L768.7 269.9 L769.8 267.9 L770.9 266.0 L772.0 264.7 L773.1 262.6 L774.2 260.9 L775.3 258.5 L776.4 257.2 L778.5 255.7 L780.6 254.3 L783.0 253.6 L785.0 252.9 L787.3 251.4 L789.6 249.9 L791.9 249.8 L794.1 248.8 L796.3 248.0 L798.7 248.5 L801.6 249.1 L803.4 249.6 L805.3 250.3 L807.4 250.1 L809.6 250.1 L811.8 250.4 L814.0 251.9 L816.2 251.8 L818.2 251.9 L820.4 251.8 L822.5 251.8 L824.6 251.8 L826.6 252.2 L828.7 252.2 L830.8 252.4 L833.0 253.4 L835.0 253.2 L837.0 254.0 L839.1 254.4 L841.2 254.6 L843.3 254.9 L845.4 255.5 L847.5 255.7 L849.5 255.7 L851.8 256.0 L854.0 256.3 L856.2 256.9 L858.4 258.2 L860.6 258.6 L862.7 258.9 L864.7 260.1 L866.5 261.8 L868.2 263.0 L869.9 264.7 L871.6 265.7 L873.2 267.6 L874.7 269.3 L876.2 270.8 L877.5 272.2 L879.3 274.1 L880.7 275.9 L881.9 277.6 L883.3 279.4 L884.9 281.4 L886.1 282.9 L887.4 284.4 L888.8 286.1 L890.3 287.8 L891.8 289.5 L893.2 291.2 L894.6 292.7 L895.9 294.2 L897.6 296.0 L899.2 297.8 L900.8 299.4 L902.3 300.9 L903.7 302.3 L905.0 303.4 L907.2 305.0 L909.1 305.8 L910.6 306.1 L913.5 303.5 L915.0 301.5 L916.5 299.0 L917.5 297.4 L918.6 295.6 L919.5 293.0 L919.9 291.4 L920.2 289.8 L920.6 288.0 L920.9 285.9 L921.3 283.2 L921.8 280.0 L922.0 278.5 L922.3 276.8 L922.6 274.9 L922.9 273.0 L923.2 270.9 L923.5 268.7 L923.8 266.5 L924.1 264.3 L924.4 262.1 L924.8 259.9 L925.1 257.7 L925.4 255.6 L925.7 253.6 L925.9 251.7 L926.2 250.0 L926.5 247.6 L926.9 245.4 L927.2 243.3 L927.4 241.3 L927.7 239.4 L928.0 237.5 L928.2 235.7 L928.5 233.8 L928.8 232.0 L929.1 230.0 L929.4 228.0 L929.8 225.9 L930.2 223.8 L930.5 221.8 L930.9 219.7 L931.3 217.6 L931.7 215.6 L932.0 213.7 L932.4 211.8 L932.7 210.0 L933.1 207.7 L933.5 205.8 L933.9 204.0 L934.2 202.2 L934.5 200.2 L934.9 197.9 L935.3 195.0 L935.5 193.4 L935.7 191.7 L935.9 189.8 L936.1 187.8 L936.4 185.7 L936.6 183.6 L936.8 181.4 L937.1 179.2 L937.3 177.0 L937.5 174.8 L937.7 172.7 L937.9 170.6 L938.1 168.6 L938.3 166.7 L938.5 165.0 L938.7 162.6 L939.0 160.3 L939.2 158.1 L939.4 156.0 L939.6 154.0 L939.8 152.1 L939.9 150.2 L940.1 148.5 L940.3 146.7 L940.5 145.0 L940.8 142.6 L941.0 140.4 L941.3 138.3 L941.6 136.3 L941.9 134.4 L942.2 132.7 L942.5 131.0 L943.1 128.4 L943.8 126.1 L944.6 124.1 L945.5 122.5 L947.5 120.6 L950.0 119.5 L951.6 118.6 L953.5 117.8 L956.7 117.0 L958.2 116.8 L959.9 116.5 L961.8 116.3 L963.8 116.1 L966.0 115.9 L968.2 115.7 L970.5 115.5 L972.7 115.3 L975.0 115.1 L976.9 114.9 L978.8 114.8 L980.7 114.7 L982.7 114.6 L984.7 114.5 L986.8 114.3 L988.8 114.2 L990.9 114.0 L993.0 113.8 L995.0 113.6 L997.1 113.3 L999.0 113.0 L1000.8 112.7 L1002.5 112.3 L1004.2 112.0 L1005.8 111.6 L1007.6 111.2 L1009.5 110.7 L1011.7 110.2 L1014.1 109.6 L1016.8 108.9 L1020.0 108.1 L1021.5 107.7 L1023.0 107.4 L1024.6 107.0 L1026.3 106.5 L1028.1 106.1 L1029.9 105.6 L1031.8 105.2 L1033.7 104.7 L1035.7 104.2 L1037.7 103.7 L1039.7 103.2 L1041.8 102.7 L1043.9 102.1 L1046.0 101.6 L1048.2 101.0 L1050.3 100.5 L1052.5 100.0 L1054.7 99.4 L1056.8 98.9 L1059.0 98.3 L1061.1 97.8 L1063.2 97.3 L1065.3 96.7 L1067.4 96.2 L1069.4 95.7 L1071.4 95.2 L1073.4 94.7 L1075.3 94.2 L1077.2 93.7 L1079.1 93.2 L1081.0 92.7 L1082.8 92.2 L1084.7 91.7 L1086.6 91.2 L1088.4 90.7 L1090.3 90.2 L1092.1 89.6 L1094.0 89.1 L1095.9 88.6 L1097.7 88.1 L1099.6 87.6 L1101.6 87.1 L1103.5 86.6 L1105.5 86.2 L1107.5 85.7 L1109.5 85.2 L1111.6 84.7 L1113.7 84.2 L1115.9 83.8 L1118.1 83.3 L1120.4 82.8 L1122.7 82.4 L1124.5 82.1 L1126.4 81.7 L1128.3 81.4 L1130.3 81.1 L1132.4 80.7 L1134.5 80.4 L1136.7 80.0 L1138.9 79.7 L1141.2 79.3 L1143.5 79.0 L1145.9 78.6 L1148.2 78.3 L1150.6 77.9 L1152.9 77.6 L1155.3 77.3 L1157.7 76.9 L1160.0 76.6 L1162.4 76.3 L1164.7 76.0 L1167.0 75.7 L1169.2 75.4 L1171.4 75.1 L1173.6 74.8 L1175.7 74.5 L1177.7 74.2 L1179.7 74.0 L1181.6 73.7 L1183.4 73.5 L1185.1 73.2 L1186.8 73.0 L1188.3 72.8 L1189.7 72.6 L1191.0 72.4 L1192.2 72.3 L1193.3 72.1" fill="none" stroke="#22e6e6" stroke-width="2.8" stroke-linejoin="round" stroke-linecap="round"/>
<path d="M759.0 313.5 L759.4 312.3 L759.9 310.5 L760.5 308.5 L761.3 306.3 L762.1 304.1 L762.9 302.1 L763.8 300.2 L764.8 298.2 L765.9 296.2 L767.1 294.3 L768.2 292.0 L769.3 290.3 L770.6 288.1 L771.8 286.3 L773.0 284.8 L774.3 283.4 L775.7 281.4 L777.1 279.6 L778.6 277.7 L780.2 276.7 L781.8 274.9 L783.4 274.2 L785.6 272.4 L787.9 271.1 L790.2 270.7 L792.4 270.2 L795.0 269.9 L797.3 269.7 L800.0 269.3 L801.8 269.1 L803.7 269.8 L805.7 270.2 L807.8 270.5 L809.9 271.1 L811.7 271.4 L813.6 272.9 L815.6 273.4 L817.6 274.2 L819.6 275.5 L821.5 276.4 L823.8 277.1 L826.1 277.6 L828.4 278.2 L830.7 278.7 L833.0 279.1 L835.3 278.6 L837.7 278.2 L840.1 277.7 L842.4 277.9 L844.6 277.8 L846.7 279.0 L848.7 279.7 L850.6 279.8 L852.5 280.8 L854.5 281.7 L856.5 282.0 L858.5 283.6 L860.5 285.0 L862.4 286.0 L864.4 287.7 L866.3 288.2 L868.1 288.9 L869.9 290.8 L871.8 292.5 L873.9 294.2 L875.2 295.4 L876.6 296.7 L878.1 298.1 L879.6 299.6 L881.1 301.2 L882.6 302.7 L884.0 304.2 L885.4 305.7 L886.7 307.1 L888.2 308.8 L889.7 310.5 L891.1 312.2 L892.4 313.8 L893.6 315.3 L894.8 316.8 L895.9 318.1 L897.6 320.2 L898.9 322.0 L900.2 323.5 L901.4 324.6 L903.8 325.2 L906.0 324.5 L907.6 323.5 L909.2 321.9 L910.6 320.0 L911.5 318.3 L912.4 316.3 L913.2 314.2 L914.0 312.0 L914.9 309.8 L915.8 307.6 L916.7 305.3 L917.5 303.0 L918.3 301.0 L919.0 299.1 L919.8 297.0 L920.5 294.0 L920.8 292.4 L921.2 290.6 L921.5 288.6 L921.8 286.6 L922.1 284.4 L922.4 282.1 L922.8 279.8 L923.1 277.4 L923.4 275.0 L923.6 273.1 L923.9 271.1 L924.1 269.1 L924.3 266.9 L924.6 264.8 L924.8 262.6 L925.0 260.4 L925.3 258.2 L925.5 256.0 L925.7 253.9 L926.0 251.9 L926.2 250.0 L926.5 247.8 L926.8 245.7 L927.0 243.6 L927.3 241.6 L927.6 239.7 L927.9 237.8 L928.2 235.8 L928.5 233.9 L928.8 232.0 L929.1 230.0 L929.4 228.0 L929.8 226.0 L930.2 224.0 L930.5 222.0 L930.9 220.0 L931.3 218.0 L931.7 216.0 L932.0 214.0 L932.4 212.0 L932.7 210.0 L933.0 208.0 L933.3 206.0 L933.6 204.0 L933.9 202.0 L934.2 200.0 L934.4 198.0 L934.7 196.0 L935.0 194.0 L935.2 192.0 L935.5 190.0 L935.8 188.0 L936.0 186.0 L936.3 183.9 L936.5 181.9 L936.8 179.9 L937.0 177.9 L937.3 175.9 L937.5 173.9 L937.8 171.9 L938.0 170.0 L938.3 167.9 L938.6 165.8 L938.8 163.6 L939.1 161.5 L939.4 159.5 L939.7 157.5 L939.9 155.6 L940.2 153.7 L940.5 152.0 L940.9 149.6 L941.3 147.4 L941.7 145.3 L942.1 143.4 L942.6 141.6 L943.0 140.0 L943.9 137.2 L945.0 134.9 L946.0 133.0 L947.4 131.1 L949.4 129.8 L951.1 129.2 L953.3 128.8 L956.7 128.3 L958.2 128.1 L960.0 127.9 L961.8 127.8 L963.9 127.6 L966.0 127.4 L968.2 127.2 L970.5 127.0 L972.7 126.7 L975.0 126.4 L976.9 126.1 L978.8 125.8 L980.7 125.5 L982.7 125.1 L984.7 124.8 L986.8 124.4 L988.8 124.0 L990.9 123.6 L993.0 123.3 L995.0 122.9 L997.1 122.5 L999.0 122.2 L1000.8 121.9 L1002.5 121.6 L1004.2 121.4 L1005.8 121.2 L1007.6 120.9 L1009.5 120.6 L1011.7 120.2 L1014.1 119.7 L1016.8 119.1 L1020.0 118.3 L1021.5 117.9 L1023.0 117.5 L1024.6 117.1 L1026.3 116.7 L1028.1 116.2 L1029.9 115.7 L1031.8 115.2 L1033.7 114.7 L1035.7 114.2 L1037.7 113.7 L1039.7 113.1 L1041.8 112.5 L1043.9 112.0 L1046.0 111.4 L1048.2 110.8 L1050.3 110.2 L1052.5 109.6 L1054.7 109.0 L1056.8 108.4 L1059.0 107.7 L1061.1 107.1 L1063.2 106.5 L1065.3 105.9 L1067.4 105.4 L1069.4 104.8 L1071.4 104.2 L1073.4 103.6 L1075.3 103.1 L1077.2 102.5 L1079.1 101.9 L1081.0 101.3 L1082.8 100.7 L1084.7 100.1 L1086.6 99.5 L1088.4 98.9 L1090.3 98.3 L1092.1 97.6 L1094.0 97.0 L1095.9 96.4 L1097.7 95.8 L1099.6 95.2 L1101.6 94.6 L1103.5 94.0 L1105.5 93.4 L1107.5 92.8 L1109.5 92.2 L1111.6 91.6 L1113.7 91.0 L1115.9 90.5 L1118.1 89.9 L1120.4 89.3 L1122.7 88.8 L1124.5 88.4 L1126.4 88.0 L1128.3 87.6 L1130.3 87.1 L1132.4 86.7 L1134.5 86.3 L1136.7 85.9 L1138.9 85.4 L1141.2 85.0 L1143.5 84.6 L1145.9 84.2 L1148.2 83.7 L1150.6 83.3 L1152.9 82.9 L1155.3 82.5 L1157.7 82.0 L1160.0 81.6 L1162.4 81.2 L1164.7 80.8 L1167.0 80.5 L1169.2 80.1 L1171.4 79.7 L1173.6 79.3 L1175.7 79.0 L1177.7 78.6 L1179.7 78.3 L1181.6 78.0 L1183.4 77.7 L1185.1 77.4 L1186.8 77.1 L1188.3 76.9 L1189.7 76.6 L1191.0 76.4 L1192.2 76.2 L1193.3 76.0" fill="none" stroke="#ee22ee" stroke-width="2.8" stroke-linejoin="round" stroke-linecap="round"/>
<path d="M758.6 335.0 L758.9 333.7 L759.3 332.1 L759.8 330.1 L760.3 327.9 L760.9 325.5 L761.6 323.2 L762.2 320.9 L762.9 318.8 L763.6 316.8 L764.4 314.7 L765.1 312.7 L766.0 310.7 L766.8 308.7 L767.7 306.8 L768.5 305.5 L769.3 303.5 L770.5 301.3 L771.7 299.7 L773.0 297.5 L774.3 295.9 L775.7 294.5 L777.3 293.5 L779.1 291.2 L780.9 289.5 L782.8 288.4 L784.7 288.1 L786.8 287.7 L789.0 286.6 L791.2 286.8 L793.3 286.5 L795.0 286.8 L797.5 287.2 L800.0 287.1 L801.6 288.0 L803.5 288.1 L805.6 288.0 L807.7 288.7 L809.9 289.0 L811.7 290.4 L813.6 291.4 L815.6 292.0 L817.6 293.0 L819.6 294.3 L821.5 295.6 L823.8 295.9 L826.0 296.0 L828.3 296.5 L830.6 296.6 L833.0 297.3 L835.1 298.5 L837.4 298.6 L839.7 299.0 L842.0 300.1 L844.2 300.3 L846.2 300.6 L848.4 301.3 L850.6 302.5 L852.5 303.6 L854.4 304.6 L856.1 304.9 L858.0 306.1 L859.6 307.3 L861.1 309.2 L862.7 310.8 L864.0 312.4 L865.3 313.6 L866.6 314.9 L868.2 316.0 L870.0 318.4 L871.0 319.2 L872.0 321.2 L873.2 322.9 L874.4 324.6 L875.6 326.4 L876.9 328.3 L878.2 330.1 L879.4 331.9 L880.7 333.6 L881.9 335.1 L883.0 336.5 L884.7 338.4 L886.4 340.2 L888.1 341.9 L889.8 343.3 L891.3 344.6 L892.7 345.7 L894.0 346.6 L897.1 347.9 L899.5 347.5 L901.4 346.8 L903.2 345.6 L905.0 343.9 L906.3 342.2 L907.6 340.1 L908.9 337.9 L910.0 335.5 L910.8 333.6 L911.5 331.6 L912.2 329.5 L912.9 327.3 L913.5 325.0 L914.0 323.0 L914.5 320.9 L915.0 318.7 L915.5 316.5 L916.0 314.3 L916.5 312.0 L916.9 310.1 L917.4 308.3 L917.8 306.5 L918.2 304.7 L918.7 302.7 L919.1 300.5 L919.5 298.0 L919.8 296.3 L920.0 294.4 L920.3 292.4 L920.6 290.4 L920.9 288.3 L921.1 286.1 L921.4 283.9 L921.7 281.7 L921.9 279.4 L922.2 277.2 L922.4 275.0 L922.6 273.0 L922.8 270.9 L923.0 268.8 L923.2 266.6 L923.3 264.5 L923.5 262.3 L923.7 260.2 L923.8 258.0 L924.0 255.9 L924.2 253.9 L924.4 251.9 L924.6 250.0 L924.9 247.8 L925.1 245.7 L925.4 243.6 L925.7 241.6 L926.0 239.7 L926.3 237.8 L926.6 235.8 L926.9 233.9 L927.2 232.0 L927.5 230.0 L927.8 228.0 L928.2 226.0 L928.6 223.9 L928.9 221.9 L929.3 219.9 L929.7 217.9 L930.0 215.9 L930.4 213.9 L930.8 211.9 L931.1 210.0 L931.5 207.9 L931.8 205.9 L932.1 203.9 L932.4 202.0 L932.7 200.0 L933.1 198.1 L933.4 196.1 L933.7 194.1 L934.0 192.0 L934.3 190.1 L934.6 188.1 L934.9 186.0 L935.2 184.0 L935.5 181.9 L935.8 179.8 L936.1 177.8 L936.4 175.8 L936.7 173.8 L937.0 172.0 L937.4 169.8 L937.7 167.6 L938.1 165.5 L938.4 163.4 L938.8 161.5 L939.2 159.6 L939.6 157.7 L940.0 156.0 L940.7 153.4 L941.4 150.9 L942.2 148.7 L943.0 146.7 L943.9 145.0 L945.4 142.9 L947.1 141.4 L949.4 140.2 L951.1 139.5 L953.0 138.9 L955.1 138.4 L957.5 137.9 L960.4 137.4 L962.0 137.1 L963.5 136.9 L965.2 136.7 L966.9 136.5 L968.7 136.3 L970.7 136.1 L972.8 135.9 L975.2 135.5 L977.8 135.2 L980.6 134.7 L982.1 134.4 L983.7 134.2 L985.4 133.9 L987.1 133.7 L988.8 133.4 L990.6 133.1 L992.5 132.8 L994.4 132.5 L996.4 132.2 L998.3 131.9 L1000.4 131.5 L1002.5 131.2 L1004.6 130.8 L1006.7 130.4 L1008.9 129.9 L1011.0 129.5 L1013.3 129.0 L1015.5 128.4 L1017.7 127.9 L1020.0 127.3 L1021.7 126.8 L1023.4 126.4 L1025.2 125.9 L1027.0 125.3 L1028.8 124.8 L1030.6 124.2 L1032.5 123.6 L1034.4 123.0 L1036.2 122.4 L1038.2 121.8 L1040.1 121.2 L1042.0 120.5 L1044.0 119.9 L1045.9 119.2 L1047.9 118.5 L1049.9 117.9 L1051.9 117.2 L1053.8 116.5 L1055.8 115.8 L1057.8 115.2 L1059.8 114.5 L1061.7 113.8 L1063.7 113.2 L1065.6 112.5 L1067.6 111.9 L1069.5 111.2 L1071.4 110.6 L1073.4 110.0 L1075.3 109.3 L1077.2 108.7 L1079.1 108.0 L1081.0 107.3 L1082.8 106.7 L1084.7 106.0 L1086.6 105.4 L1088.4 104.7 L1090.3 104.1 L1092.1 103.4 L1094.0 102.7 L1095.9 102.1 L1097.7 101.4 L1099.6 100.8 L1101.6 100.1 L1103.5 99.5 L1105.5 98.8 L1107.5 98.2 L1109.5 97.6 L1111.6 96.9 L1113.7 96.3 L1115.9 95.7 L1118.1 95.1 L1120.4 94.5 L1122.7 93.9 L1124.5 93.5 L1126.4 93.0 L1128.3 92.6 L1130.3 92.1 L1132.4 91.6 L1134.5 91.2 L1136.7 90.7 L1138.9 90.2 L1141.2 89.7 L1143.5 89.3 L1145.9 88.8 L1148.2 88.3 L1150.6 87.9 L1152.9 87.4 L1155.3 86.9 L1157.7 86.5 L1160.0 86.0 L1162.4 85.6 L1164.7 85.1 L1167.0 84.7 L1169.2 84.3 L1171.4 83.9 L1173.6 83.5 L1175.7 83.1 L1177.7 82.7 L1179.7 82.4 L1181.6 82.0 L1183.4 81.7 L1185.1 81.4 L1186.8 81.1 L1188.3 80.8 L1189.7 80.5 L1191.0 80.2 L1192.2 80.0 L1193.3 79.8" fill="none" stroke="#eeee22" stroke-width="2.8" stroke-linejoin="round" stroke-linecap="round"/>
<path d="M759.1 351.8 L759.4 350.6 L759.8 349.0 L760.2 347.1 L760.7 345.0 L761.2 342.7 L761.8 340.3 L762.5 337.8 L763.1 335.4 L763.9 333.0 L764.7 330.7 L765.5 328.7 L766.4 326.9 L767.6 325.0 L768.8 323.3 L770.1 322.0 L771.5 320.1 L773.0 318.7 L774.6 317.6 L776.1 316.0 L777.8 314.9 L779.4 313.8 L781.1 312.9 L783.1 311.0 L785.2 309.7 L787.4 309.8 L789.7 309.2 L792.0 308.1 L794.2 308.0 L796.3 307.1 L798.3 306.8 L800.0 306.8 L802.6 306.7 L804.6 307.1 L806.4 308.4 L808.1 309.9 L809.9 310.9 L811.6 312.3 L813.2 314.2 L814.9 314.8 L816.5 316.0 L818.1 316.9 L819.8 318.3 L822.2 319.0 L824.6 319.1 L827.1 318.9 L829.7 319.7 L831.5 320.5 L833.4 320.8 L835.4 321.8 L837.4 322.0 L839.4 322.6 L841.3 323.9 L843.2 324.1 L845.2 324.3 L847.2 324.7 L849.1 325.9 L851.0 327.1 L852.8 327.2 L854.9 328.3 L857.0 329.2 L859.0 330.1 L860.9 331.0 L862.7 332.2 L864.6 333.1 L866.3 334.9 L868.0 335.9 L870.0 338.4 L871.0 340.0 L872.0 341.7 L873.1 343.3 L874.2 345.2 L875.4 347.2 L876.5 349.3 L877.7 351.3 L878.9 353.3 L880.1 355.1 L881.2 356.7 L882.6 358.6 L884.1 360.3 L885.6 362.0 L887.1 363.6 L888.5 365.1 L889.8 366.4 L891.1 367.6 L892.2 368.6 L894.4 370.4 L896.1 371.3 L897.7 371.4 L899.5 370.9 L901.4 369.7 L903.2 367.7 L904.1 366.4 L905.1 364.9 L906.0 363.3 L906.9 361.4 L907.8 359.2 L908.7 356.7 L909.2 355.0 L909.7 353.1 L910.2 351.0 L910.7 348.8 L911.1 346.5 L911.6 344.3 L912.1 342.0 L912.5 339.9 L912.9 337.8 L913.3 336.0 L913.8 333.7 L914.3 331.6 L914.8 329.7 L915.2 327.9 L915.6 326.0 L916.1 324.1 L916.5 322.0 L916.9 320.0 L917.3 317.9 L917.7 315.8 L918.0 313.6 L918.4 311.4 L918.8 309.2 L919.2 307.0 L919.5 305.0 L919.9 302.8 L920.3 300.7 L920.6 298.7 L921.0 296.7 L921.3 294.6 L921.7 292.4 L922.0 290.0 L922.2 288.2 L922.4 286.3 L922.6 284.4 L922.8 282.4 L923.0 280.3 L923.2 278.2 L923.4 276.2 L923.6 274.1 L923.8 272.0 L924.0 270.0 L924.2 268.0 L924.4 266.0 L924.6 264.0 L924.8 262.0 L925.0 260.0 L925.3 258.0 L925.5 256.0 L925.7 254.0 L926.0 252.0 L926.2 250.0 L926.5 248.0 L926.7 246.0 L927.0 244.0 L927.3 242.0 L927.6 240.0 L927.9 238.0 L928.2 236.0 L928.5 234.0 L928.8 232.0 L929.1 230.0 L929.4 228.0 L929.8 226.0 L930.2 223.9 L930.5 221.9 L930.9 219.8 L931.3 217.8 L931.7 215.8 L932.0 213.8 L932.4 211.9 L932.7 210.0 L933.1 207.7 L933.5 205.6 L933.8 203.4 L934.1 201.4 L934.5 199.3 L934.8 197.2 L935.1 195.2 L935.5 193.0 L935.8 191.0 L936.2 189.0 L936.5 186.9 L936.8 184.8 L937.2 182.7 L937.5 180.7 L937.9 178.7 L938.2 176.8 L938.5 175.0 L938.9 172.5 L939.4 170.1 L939.8 167.8 L940.1 165.7 L940.6 163.8 L941.0 162.0 L941.9 159.1 L942.8 156.9 L944.0 155.0 L945.4 153.5 L947.1 152.3 L949.4 151.2 L951.1 150.4 L953.0 149.7 L955.1 148.9 L957.5 148.2 L960.4 147.5 L962.0 147.2 L963.5 147.0 L965.2 146.8 L966.9 146.6 L968.7 146.4 L970.7 146.2 L972.8 146.0 L975.2 145.7 L977.8 145.3 L980.6 144.8 L982.1 144.5 L983.7 144.2 L985.4 143.9 L987.1 143.6 L988.8 143.3 L990.6 143.0 L992.5 142.7 L994.4 142.3 L996.4 142.0 L998.3 141.6 L1000.4 141.2 L1002.5 140.8 L1004.6 140.3 L1006.7 139.8 L1008.9 139.3 L1011.0 138.8 L1013.3 138.2 L1015.5 137.6 L1017.7 137.0 L1020.0 136.3 L1021.7 135.8 L1023.4 135.2 L1025.2 134.6 L1027.0 134.0 L1028.8 133.4 L1030.6 132.7 L1032.5 132.1 L1034.4 131.4 L1036.2 130.7 L1038.2 129.9 L1040.1 129.2 L1042.0 128.5 L1044.0 127.7 L1045.9 126.9 L1047.9 126.2 L1049.9 125.4 L1051.9 124.6 L1053.8 123.8 L1055.8 123.0 L1057.8 122.3 L1059.8 121.5 L1061.7 120.7 L1063.7 120.0 L1065.6 119.2 L1067.6 118.5 L1069.5 117.7 L1071.4 117.0 L1073.3 116.3 L1075.2 115.6 L1077.0 114.8 L1078.8 114.1 L1080.6 113.4 L1082.4 112.7 L1084.2 111.9 L1086.0 111.2 L1087.8 110.5 L1089.6 109.7 L1091.4 109.0 L1093.1 108.3 L1094.9 107.5 L1096.8 106.8 L1098.6 106.1 L1100.4 105.3 L1102.3 104.6 L1104.2 103.9 L1106.1 103.2 L1108.0 102.5 L1110.0 101.8 L1112.0 101.1 L1114.1 100.4 L1116.2 99.8 L1118.3 99.1 L1120.5 98.4 L1122.7 97.8 L1124.4 97.3 L1126.2 96.8 L1128.1 96.3 L1130.1 95.8 L1132.1 95.3 L1134.2 94.8 L1136.3 94.3 L1138.4 93.8 L1140.6 93.3 L1142.9 92.8 L1145.1 92.3 L1147.4 91.8 L1149.7 91.3 L1152.0 90.8 L1154.3 90.3 L1156.6 89.8 L1158.9 89.4 L1161.2 88.9 L1163.5 88.4 L1165.7 88.0 L1167.9 87.5 L1170.1 87.1 L1172.2 86.7 L1174.3 86.3 L1176.3 85.8 L1178.3 85.5 L1180.2 85.1 L1182.0 84.7 L1183.7 84.4 L1185.4 84.0 L1187.0 83.7 L1188.4 83.4 L1189.8 83.1 L1191.1 82.9 L1192.3 82.6 L1193.3 82.4" fill="none" stroke="#7f7f10" stroke-width="2.8" stroke-linejoin="round" stroke-linecap="round"/>
<path d="M759.1 369.4 L759.5 368.3 L759.9 366.8 L760.4 365.1 L761.0 363.2 L761.6 361.1 L762.3 358.9 L763.0 356.6 L763.8 354.4 L764.6 352.1 L765.4 350.0 L766.2 347.9 L767.1 346.1 L767.9 344.5 L769.1 342.2 L770.5 340.6 L771.8 338.6 L773.2 337.6 L774.7 336.0 L776.2 334.5 L777.8 333.8 L779.4 332.9 L781.1 332.0 L782.9 331.0 L784.8 329.5 L786.9 328.6 L788.9 327.8 L791.0 327.8 L793.1 326.8 L795.1 327.1 L797.0 326.5 L798.7 326.5 L800.9 327.2 L802.8 328.1 L804.5 329.1 L806.3 330.3 L808.2 331.6 L810.4 332.9 L812.1 333.2 L813.9 334.0 L815.9 334.6 L817.9 336.0 L819.9 337.0 L822.0 337.9 L824.1 338.9 L826.1 340.7 L828.1 341.2 L830.1 342.8 L832.3 344.2 L834.5 344.7 L836.7 346.2 L838.8 346.7 L840.8 348.0 L842.7 348.4 L844.3 349.2 L845.7 350.1 L848.3 350.8 L850.0 352.3 L851.3 353.4 L852.9 354.1 L854.6 355.8 L856.4 357.1 L858.2 358.6 L859.8 360.3 L861.0 361.7 L862.5 364.2 L863.4 367.0 L864.1 368.9 L864.7 369.9 L866.5 368.6 L867.6 369.0 L869.0 370.9 L870.5 373.4 L872.2 374.8 L873.9 376.9 L875.1 378.4 L876.4 380.0 L877.7 381.7 L879.0 383.3 L880.3 385.0 L881.7 386.5 L883.0 387.9 L884.9 389.7 L886.9 391.5 L888.8 393.0 L890.6 394.3 L892.2 395.2 L895.2 395.6 L897.7 394.3 L899.1 393.3 L900.4 392.1 L901.8 390.3 L903.2 387.9 L903.9 386.4 L904.6 384.7 L905.3 382.9 L905.9 381.0 L906.6 378.8 L907.3 376.5 L908.0 374.1 L908.7 371.4 L909.1 369.8 L909.5 368.0 L909.9 366.1 L910.3 364.1 L910.8 362.0 L911.2 359.9 L911.6 357.8 L912.0 355.7 L912.4 353.5 L912.8 351.5 L913.2 349.4 L913.5 347.5 L913.9 345.6 L914.2 343.9 L914.7 341.4 L915.1 339.1 L915.5 337.0 L915.8 335.0 L916.2 333.0 L916.5 331.1 L916.8 329.1 L917.2 327.1 L917.5 325.0 L917.8 323.0 L918.1 321.0 L918.5 318.9 L918.8 316.8 L919.1 314.8 L919.4 312.7 L919.7 310.7 L920.0 308.7 L920.2 306.8 L920.5 305.0 L920.8 302.6 L921.1 300.5 L921.3 298.5 L921.6 296.5 L921.8 294.5 L922.0 292.4 L922.3 290.0 L922.5 288.2 L922.7 286.3 L922.9 284.4 L923.1 282.4 L923.3 280.3 L923.5 278.2 L923.7 276.2 L923.9 274.1 L924.1 272.0 L924.3 270.0 L924.5 268.0 L924.7 266.0 L924.9 264.0 L925.1 262.0 L925.4 260.0 L925.6 258.0 L925.8 256.0 L926.0 254.0 L926.3 252.0 L926.5 250.0 L926.8 248.0 L927.0 246.0 L927.3 244.0 L927.5 242.0 L927.8 240.0 L928.1 238.0 L928.4 236.0 L928.7 234.0 L929.0 232.0 L929.3 230.0 L929.6 228.0 L930.0 225.9 L930.4 223.9 L930.7 221.8 L931.1 219.8 L931.5 217.7 L931.9 215.7 L932.3 213.7 L932.7 211.8 L933.0 210.0 L933.4 207.8 L933.8 205.6 L934.2 203.6 L934.5 201.6 L934.9 199.6 L935.3 197.7 L935.6 195.8 L936.0 194.0 L936.5 191.6 L937.0 189.3 L937.5 187.0 L938.0 184.9 L938.5 182.9 L939.0 181.0 L939.6 178.5 L940.2 176.2 L940.8 174.3 L941.5 172.5 L942.5 170.7 L943.7 169.3 L945.7 167.7 L947.1 166.7 L948.6 165.6 L950.3 164.4 L952.2 163.3 L954.4 162.2 L956.7 161.3 L958.4 160.8 L960.2 160.3 L962.1 159.9 L964.1 159.6 L966.2 159.2 L968.3 158.9 L970.5 158.5 L972.8 158.1 L975.0 157.6 L976.9 157.2 L978.8 156.7 L980.7 156.3 L982.7 155.8 L984.7 155.4 L986.8 154.9 L988.8 154.4 L990.9 153.8 L993.0 153.3 L995.0 152.7 L997.1 152.1 L998.9 151.6 L1000.5 151.0 L1002.1 150.5 L1003.6 150.1 L1005.1 149.5 L1006.7 149.0 L1008.4 148.4 L1010.2 147.7 L1012.3 147.0 L1014.5 146.1 L1017.1 145.1 L1020.0 144.0 L1021.4 143.5 L1022.9 142.9 L1024.5 142.3 L1026.1 141.6 L1027.8 141.0 L1029.5 140.3 L1031.3 139.6 L1033.1 138.9 L1035.0 138.1 L1036.9 137.4 L1038.9 136.6 L1040.9 135.8 L1042.9 135.0 L1044.9 134.2 L1047.0 133.4 L1049.1 132.6 L1051.1 131.7 L1053.2 130.9 L1055.3 130.1 L1057.4 129.2 L1059.4 128.4 L1061.5 127.6 L1063.5 126.7 L1065.5 125.9 L1067.5 125.1 L1069.5 124.3 L1071.4 123.5 L1073.3 122.7 L1075.2 121.9 L1077.0 121.1 L1078.8 120.3 L1080.6 119.5 L1082.4 118.6 L1084.2 117.8 L1086.0 117.0 L1087.8 116.1 L1089.6 115.3 L1091.4 114.4 L1093.1 113.6 L1094.9 112.7 L1096.8 111.9 L1098.6 111.1 L1100.4 110.2 L1102.3 109.4 L1104.2 108.6 L1106.1 107.8 L1108.0 106.9 L1110.0 106.1 L1112.0 105.4 L1114.1 104.6 L1116.2 103.8 L1118.3 103.1 L1120.5 102.3 L1122.7 101.6 L1124.4 101.1 L1126.2 100.5 L1128.1 100.0 L1130.1 99.4 L1132.1 98.9 L1134.2 98.3 L1136.3 97.8 L1138.4 97.2 L1140.6 96.7 L1142.9 96.1 L1145.1 95.6 L1147.4 95.0 L1149.7 94.5 L1152.0 94.0 L1154.3 93.4 L1156.6 92.9 L1158.9 92.4 L1161.2 91.9 L1163.5 91.4 L1165.7 90.9 L1167.9 90.4 L1170.1 89.9 L1172.2 89.5 L1174.3 89.0 L1176.3 88.6 L1178.3 88.2 L1180.2 87.8 L1182.0 87.4 L1183.7 87.0 L1185.4 86.7 L1187.0 86.3 L1188.4 86.0 L1189.8 85.7 L1191.1 85.4 L1192.3 85.1 L1193.3 84.9" fill="none" stroke="#14148a" stroke-width="2.8" stroke-linejoin="round" stroke-linecap="round"/>
<path d="M759.1 381.2 L759.6 380.1 L760.1 378.6 L760.7 376.8 L761.5 374.9 L762.2 372.7 L763.1 370.5 L764.0 368.2 L764.9 365.9 L765.8 363.6 L766.7 361.5 L767.6 359.5 L768.5 357.2 L769.4 356.2 L771.0 354.5 L772.6 352.2 L774.2 351.1 L775.9 349.4 L777.6 348.3 L779.3 347.6 L781.1 345.9 L783.2 344.2 L785.3 342.9 L787.4 341.8 L789.6 341.4 L791.9 340.8 L794.3 340.6 L796.1 341.0 L798.0 341.6 L799.9 342.9 L801.9 343.0 L803.9 344.2 L806.0 345.7 L808.2 346.8 L810.4 347.3 L812.1 347.8 L813.9 348.8 L815.7 349.4 L817.6 351.5 L819.5 352.9 L821.4 354.2 L823.3 355.3 L825.3 356.8 L827.2 357.4 L829.1 357.8 L831.0 358.7 L832.9 359.7 L834.9 361.1 L836.8 361.2 L838.8 362.6 L840.8 363.1 L842.8 363.4 L844.7 364.5 L846.6 365.8 L848.3 366.6 L850.0 367.6 L851.5 368.2 L853.6 369.4 L855.4 370.2 L856.9 372.4 L858.3 373.9 L859.7 374.9 L861.2 376.4 L862.8 378.4 L864.2 380.3 L865.6 382.4 L867.1 383.7 L868.6 385.3 L870.1 387.2 L871.6 388.3 L873.1 390.3 L874.4 391.9 L875.7 393.4 L877.2 395.2 L878.7 396.9 L880.0 398.6 L881.3 400.2 L882.6 401.7 L883.8 403.1 L884.9 404.4 L886.7 406.5 L888.3 408.5 L889.8 409.9 L891.3 410.8 L893.5 410.8 L895.6 409.8 L897.7 408.1 L898.9 406.9 L900.0 405.4 L901.0 403.7 L902.1 401.5 L903.2 398.9 L903.8 397.4 L904.3 395.7 L904.8 393.8 L905.4 391.9 L905.9 389.8 L906.5 387.7 L907.0 385.5 L907.6 383.3 L908.2 381.0 L908.7 378.7 L909.1 376.9 L909.6 375.1 L910.0 373.2 L910.4 371.3 L910.9 369.4 L911.3 367.4 L911.7 365.4 L912.2 363.4 L912.6 361.4 L913.0 359.3 L913.4 357.2 L913.8 355.1 L914.2 353.0 L914.6 351.0 L914.9 349.1 L915.2 347.2 L915.6 345.3 L915.9 343.3 L916.2 341.3 L916.6 339.3 L916.9 337.3 L917.2 335.2 L917.5 333.1 L917.8 330.9 L918.1 328.6 L918.5 326.2 L918.8 323.7 L919.0 321.9 L919.3 320.0 L919.5 318.1 L919.7 316.2 L920.0 314.2 L920.2 312.1 L920.4 310.0 L920.7 307.9 L920.9 305.8 L921.1 303.6 L921.4 301.5 L921.6 299.3 L921.9 297.1 L922.1 294.9 L922.3 292.7 L922.6 290.6 L922.8 288.4 L923.0 286.2 L923.3 284.1 L923.5 282.0 L923.7 280.0 L923.9 278.0 L924.2 275.9 L924.4 273.9 L924.6 271.8 L924.8 269.7 L925.0 267.7 L925.2 265.6 L925.4 263.5 L925.6 261.4 L925.8 259.4 L926.0 257.3 L926.3 255.3 L926.5 253.3 L926.7 251.3 L926.9 249.3 L927.2 247.4 L927.4 245.5 L927.6 243.6 L927.9 241.8 L928.1 240.0 L928.4 237.7 L928.8 235.5 L929.1 233.3 L929.5 231.1 L929.9 229.0 L930.2 227.0 L930.6 224.9 L931.0 222.9 L931.4 221.0 L931.8 219.0 L932.2 217.1 L932.5 215.3 L932.9 213.4 L933.2 211.5 L933.6 209.7 L933.9 207.9 L934.3 205.7 L934.7 203.4 L935.0 201.1 L935.4 198.9 L935.7 196.6 L936.1 194.5 L936.4 192.4 L936.8 190.3 L937.1 188.4 L937.4 186.6 L937.7 184.9 L938.0 183.4 L938.3 182.0 L939.1 178.8 L939.9 177.0 L940.6 175.8 L941.5 174.5 L942.8 172.4 L944.2 170.6 L946.3 169.0 L947.9 168.2 L949.7 167.6 L951.7 167.1 L954.0 166.5 L956.7 165.9 L958.4 165.5 L960.2 165.1 L962.1 164.7 L964.1 164.3 L966.2 163.9 L968.3 163.5 L970.5 163.1 L972.8 162.7 L975.0 162.2 L976.9 161.8 L978.8 161.5 L980.7 161.1 L982.7 160.7 L984.7 160.3 L986.8 159.9 L988.8 159.5 L990.9 159.1 L993.0 158.6 L995.0 158.1 L997.1 157.6 L998.9 157.1 L1000.5 156.7 L1002.1 156.4 L1003.6 156.0 L1005.1 155.6 L1006.7 155.2 L1008.4 154.7 L1010.2 154.1 L1012.3 153.4 L1014.5 152.6 L1017.1 151.6 L1020.0 150.4 L1021.4 149.8 L1022.8 149.2 L1024.3 148.6 L1025.8 147.9 L1027.5 147.2 L1029.1 146.5 L1030.8 145.7 L1032.6 145.0 L1034.4 144.2 L1036.3 143.3 L1038.1 142.5 L1040.0 141.6 L1042.0 140.7 L1043.9 139.8 L1045.9 138.9 L1047.9 138.0 L1049.9 137.1 L1051.9 136.2 L1053.9 135.3 L1055.9 134.4 L1057.9 133.4 L1059.9 132.5 L1061.9 131.6 L1063.8 130.7 L1065.8 129.9 L1067.7 129.0 L1069.5 128.1 L1071.4 127.3 L1073.2 126.5 L1075.0 125.6 L1076.8 124.8 L1078.6 123.9 L1080.3 123.1 L1082.1 122.2 L1083.8 121.4 L1085.5 120.5 L1087.2 119.7 L1088.9 118.8 L1090.7 117.9 L1092.4 117.1 L1094.1 116.2 L1095.9 115.3 L1097.6 114.5 L1099.4 113.7 L1101.2 112.8 L1103.0 112.0 L1104.8 111.2 L1106.6 110.3 L1108.5 109.5 L1110.4 108.7 L1112.4 107.9 L1114.4 107.2 L1116.4 106.4 L1118.4 105.7 L1120.5 104.9 L1122.7 104.2 L1124.4 103.6 L1126.2 103.1 L1128.1 102.5 L1130.1 102.0 L1132.1 101.4 L1134.2 100.9 L1136.3 100.3 L1138.4 99.7 L1140.6 99.2 L1142.9 98.6 L1145.1 98.1 L1147.4 97.5 L1149.7 97.0 L1152.0 96.5 L1154.3 95.9 L1156.6 95.4 L1158.9 94.9 L1161.2 94.4 L1163.5 93.9 L1165.7 93.4 L1167.9 93.0 L1170.1 92.5 L1172.2 92.0 L1174.3 91.6 L1176.3 91.2 L1178.3 90.8 L1180.2 90.4 L1182.0 90.0 L1183.7 89.6 L1185.4 89.2 L1187.0 88.9 L1188.4 88.6 L1189.8 88.3 L1191.1 88.0 L1192.3 87.7 L1193.3 87.5" fill="none" stroke="#82168a" stroke-width="2.8" stroke-linejoin="round" stroke-linecap="round"/>
<path d="M758.3 270.7 L758.8 269.5 L759.5 267.9 L760.4 265.9 L761.3 263.8 L762.3 261.6 L763.2 259.6 L764.1 257.6 L764.9 255.6 L765.8 253.5 L766.8 251.4 L767.7 249.4 L768.7 247.9 L769.9 245.6 L771.2 243.0 L772.5 240.7 L773.9 238.8 L775.3 237.7 L776.8 236.5 L778.2 234.3 L779.8 232.6 L781.4 231.1 L783.0 230.4 L785.2 228.8 L787.5 227.5 L789.7 226.7 L791.9 225.4 L793.9 224.9 L795.8 224.0 L799.6 224.4 L801.1 224.3 L802.8 224.9 L804.7 224.6 L806.7 224.3 L808.9 225.1 L811.1 225.4 L813.4 224.6 L815.8 225.4 L818.1 225.7 L820.4 226.1 L822.6 226.0 L824.8 226.2 L826.9 226.4 L829.1 226.2 L831.3 225.8 L833.5 226.5 L835.6 227.4 L837.8 226.9 L840.0 227.6 L842.1 227.9 L844.2 228.1 L846.2 228.8 L848.1 229.3 L850.0 230.0 L852.4 230.3 L854.6 231.0 L856.7 231.9 L858.8 232.3 L860.8 233.8 L862.7 234.0 L864.6 235.5 L866.5 235.9 L868.3 236.7 L870.1 238.6 L871.8 239.8 L873.5 240.7 L875.2 241.9 L876.8 243.1 L878.4 244.4 L879.9 245.7 L881.5 247.0 L883.0 248.3 L884.5 249.7 L886.1 251.1 L887.6 252.6 L889.1 254.1 L890.6 255.6 L892.0 257.1 L893.4 258.5 L894.7 259.9 L895.9 261.2 L897.6 263.0 L899.1 264.7 L900.4 266.4 L901.7 267.9 L902.9 269.2 L904.0 270.4 L906.0 272.3 L907.8 273.7 L909.4 274.3 L911.8 273.9 L914.1 272.0 L915.1 270.5 L916.1 268.6 L917.1 266.2 L918.0 263.5 L918.5 261.7 L919.1 259.6 L919.6 257.4 L920.1 255.1 L920.6 252.8 L921.1 250.5 L921.6 248.3 L922.0 246.4 L922.3 244.9 L922.6 243.5 L922.9 241.9 L923.2 239.9 L923.7 237.2 L924.3 233.7 L924.5 232.3 L924.8 230.7 L925.1 229.1 L925.4 227.3 L925.7 225.5 L926.0 223.6 L926.4 221.6 L926.7 219.5 L927.1 217.4 L927.5 215.3 L927.8 213.1 L928.2 210.9 L928.6 208.6 L929.0 206.4 L929.3 204.1 L929.7 201.9 L930.1 199.7 L930.4 197.5 L930.8 195.4 L931.1 193.3 L931.4 191.3 L931.7 189.2 L932.0 187.1 L932.4 184.9 L932.7 182.7 L933.0 180.5 L933.3 178.3 L933.6 176.2 L933.9 174.0 L934.2 171.8 L934.5 169.6 L934.8 167.5 L935.1 165.4 L935.4 163.3 L935.6 161.2 L935.9 159.2 L936.2 157.3 L936.5 155.4 L936.7 153.5 L937.0 151.7 L937.2 150.0 L937.6 147.5 L937.9 145.0 L938.2 142.7 L938.5 140.4 L938.8 138.2 L939.1 136.2 L939.4 134.2 L939.7 132.3 L939.9 130.5 L940.2 128.7 L940.5 127.1 L940.7 125.5 L941.0 124.0 L941.6 121.1 L942.2 118.7 L942.8 116.6 L943.3 114.9 L943.9 113.4 L944.5 112.0 L945.9 109.4 L948.0 108.2 L949.6 107.7 L951.4 107.4 L953.7 107.2 L956.7 106.9 L958.3 106.7 L960.0 106.5 L961.9 106.3 L964.0 106.1 L966.1 105.9 L968.3 105.6 L970.5 105.4 L972.7 105.2 L975.0 105.0 L976.9 104.8 L978.8 104.7 L980.7 104.6 L982.7 104.4 L984.7 104.3 L986.8 104.2 L988.8 104.0 L990.9 103.9 L993.0 103.7 L995.0 103.4 L997.1 103.2 L999.0 102.9 L1000.8 102.7 L1002.5 102.5 L1004.2 102.2 L1005.8 101.9 L1007.6 101.6 L1009.5 101.2 L1011.7 100.8 L1014.1 100.3 L1016.8 99.8 L1020.0 99.1 L1021.5 98.8 L1023.0 98.5 L1024.6 98.1 L1026.3 97.7 L1028.1 97.3 L1029.9 96.9 L1031.8 96.5 L1033.7 96.1 L1035.7 95.6 L1037.7 95.2 L1039.7 94.7 L1041.8 94.2 L1043.9 93.8 L1046.0 93.3 L1048.2 92.8 L1050.3 92.3 L1052.5 91.8 L1054.7 91.3 L1056.8 90.8 L1059.0 90.3 L1061.1 89.8 L1063.2 89.4 L1065.3 88.9 L1067.4 88.4 L1069.4 87.9 L1071.4 87.5 L1073.4 87.1 L1075.3 86.6 L1077.2 86.1 L1079.1 85.7 L1081.0 85.2 L1082.8 84.8 L1084.7 84.3 L1086.6 83.8 L1088.4 83.4 L1090.3 82.9 L1092.1 82.5 L1094.0 82.0 L1095.9 81.5 L1097.7 81.1 L1099.6 80.6 L1101.6 80.2 L1103.5 79.7 L1105.5 79.3 L1107.5 78.9 L1109.5 78.4 L1111.6 78.0 L1113.7 77.6 L1115.9 77.2 L1118.1 76.8 L1120.4 76.4 L1122.7 76.0 L1124.5 75.7 L1126.4 75.4 L1128.3 75.1 L1130.3 74.9 L1132.4 74.6 L1134.5 74.3 L1136.7 74.0 L1138.9 73.7 L1141.2 73.4 L1143.5 73.2 L1145.9 72.9 L1148.2 72.6 L1150.6 72.3 L1152.9 72.1 L1155.3 71.8 L1157.7 71.5 L1160.0 71.3 L1162.4 71.0 L1164.7 70.8 L1167.0 70.5 L1169.2 70.3 L1171.4 70.0 L1173.6 69.8 L1175.7 69.6 L1177.7 69.4 L1179.7 69.2 L1181.6 69.0 L1183.4 68.8 L1185.1 68.6 L1186.8 68.4 L1188.3 68.3 L1189.7 68.1 L1191.0 68.0 L1192.2 67.8 L1193.3 67.7" fill="none" stroke="#1a1aee" stroke-width="2.8" stroke-linejoin="round" stroke-linecap="round"/>
<path d="M975.3 186.0 V412.4 H1215.2" fill="none" stroke="#555" stroke-width="1.3"/>
<line x1="973.3" y1="186.1" x2="975.3" y2="186.1" stroke="#555" stroke-width="1.1"/>
<line x1="971.8" y1="200.3" x2="975.3" y2="200.3" stroke="#555" stroke-width="1.1"/>
<text x="969.2" y="203.3" class="it" text-anchor="end">-3</text>
<line x1="973.3" y1="214.5" x2="975.3" y2="214.5" stroke="#555" stroke-width="1.1"/>
<line x1="971.8" y1="228.7" x2="975.3" y2="228.7" stroke="#555" stroke-width="1.1"/>
<text x="969.2" y="231.7" class="it" text-anchor="end">-4</text>
<line x1="973.3" y1="242.9" x2="975.3" y2="242.9" stroke="#555" stroke-width="1.1"/>
<line x1="971.8" y1="257.1" x2="975.3" y2="257.1" stroke="#555" stroke-width="1.1"/>
<text x="969.2" y="260.1" class="it" text-anchor="end">-5</text>
<line x1="973.3" y1="271.3" x2="975.3" y2="271.3" stroke="#555" stroke-width="1.1"/>
<line x1="971.8" y1="285.5" x2="975.3" y2="285.5" stroke="#555" stroke-width="1.1"/>
<text x="969.2" y="288.5" class="it" text-anchor="end">-6</text>
<line x1="973.3" y1="299.7" x2="975.3" y2="299.7" stroke="#555" stroke-width="1.1"/>
<line x1="971.8" y1="313.9" x2="975.3" y2="313.9" stroke="#555" stroke-width="1.1"/>
<text x="969.2" y="316.9" class="it" text-anchor="end">-7</text>
<line x1="973.3" y1="328.1" x2="975.3" y2="328.1" stroke="#555" stroke-width="1.1"/>
<line x1="971.8" y1="342.3" x2="975.3" y2="342.3" stroke="#555" stroke-width="1.1"/>
<text x="969.2" y="345.3" class="it" text-anchor="end">-8</text>
<line x1="973.3" y1="356.5" x2="975.3" y2="356.5" stroke="#555" stroke-width="1.1"/>
<line x1="971.8" y1="370.7" x2="975.3" y2="370.7" stroke="#555" stroke-width="1.1"/>
<text x="969.2" y="373.7" class="it" text-anchor="end">-9</text>
<line x1="973.3" y1="384.9" x2="975.3" y2="384.9" stroke="#555" stroke-width="1.1"/>
<line x1="971.8" y1="399.1" x2="975.3" y2="399.1" stroke="#555" stroke-width="1.1"/>
<text x="969.2" y="402.1" class="it" text-anchor="end">-10</text>
<line x1="973.3" y1="413.3" x2="975.3" y2="413.3" stroke="#555" stroke-width="1.1"/>
<line x1="974.5" y1="412.4" x2="974.5" y2="414.4" stroke="#555" stroke-width="1.1"/>
<line x1="991.6" y1="412.4" x2="991.6" y2="415.9" stroke="#555" stroke-width="1.1"/>
<text x="991.6" y="427.9" class="it" text-anchor="middle">3</text>
<line x1="1008.7" y1="412.4" x2="1008.7" y2="414.4" stroke="#555" stroke-width="1.1"/>
<line x1="1025.9" y1="412.4" x2="1025.9" y2="415.9" stroke="#555" stroke-width="1.1"/>
<text x="1025.9" y="427.9" class="it" text-anchor="middle">4</text>
<line x1="1043.0" y1="412.4" x2="1043.0" y2="414.4" stroke="#555" stroke-width="1.1"/>
<line x1="1060.2" y1="412.4" x2="1060.2" y2="415.9" stroke="#555" stroke-width="1.1"/>
<text x="1060.2" y="427.9" class="it" text-anchor="middle">5</text>
<line x1="1077.3" y1="412.4" x2="1077.3" y2="414.4" stroke="#555" stroke-width="1.1"/>
<line x1="1094.4" y1="412.4" x2="1094.4" y2="415.9" stroke="#555" stroke-width="1.1"/>
<text x="1094.4" y="427.9" class="it" text-anchor="middle">6</text>
<line x1="1111.6" y1="412.4" x2="1111.6" y2="414.4" stroke="#555" stroke-width="1.1"/>
<line x1="1128.7" y1="412.4" x2="1128.7" y2="415.9" stroke="#555" stroke-width="1.1"/>
<text x="1128.7" y="427.9" class="it" text-anchor="middle">7</text>
<line x1="1145.9" y1="412.4" x2="1145.9" y2="414.4" stroke="#555" stroke-width="1.1"/>
<line x1="1163.0" y1="412.4" x2="1163.0" y2="415.9" stroke="#555" stroke-width="1.1"/>
<text x="1163.0" y="427.9" class="it" text-anchor="middle">8</text>
<line x1="1180.1" y1="412.4" x2="1180.1" y2="414.4" stroke="#555" stroke-width="1.1"/>
<line x1="1197.3" y1="412.4" x2="1197.3" y2="415.9" stroke="#555" stroke-width="1.1"/>
<text x="1197.3" y="427.9" class="it" text-anchor="middle">9</text>
<line x1="1214.4" y1="412.4" x2="1214.4" y2="414.4" stroke="#555" stroke-width="1.1"/>
<line x1="977.5" y1="192.0" x2="1215.2" y2="399.5" stroke="#ee2a2a" stroke-width="2.2"/>
<circle cx="997.3" cy="209.7" r="2.0" fill="#222"/>
<circle cx="1043.5" cy="250.8" r="2.0" fill="#222"/>
<circle cx="1077.1" cy="280.6" r="2.0" fill="#222"/>
<circle cx="1106.4" cy="304.1" r="2.0" fill="#222"/>
<circle cx="1131.9" cy="324.3" r="2.0" fill="#222"/>
<circle cx="1154.8" cy="346.7" r="2.0" fill="#222"/>
<circle cx="1176.6" cy="362.6" r="2.0" fill="#222"/>
<circle cx="1196.0" cy="386.8" r="2.0" fill="#222"/>
<text transform="translate(954.0 282.0) rotate(-90) scale(0.8 1)" class="ttl" font-size="36" letter-spacing="3.2" text-anchor="middle">Current / &#956;A</text>
<g transform="translate(1027 457) scale(0.83 1)" class="ttl"><text x="-1" y="0" font-size="34" font-style="italic">&#957;</text><text x="15.5" y="-18.5" font-size="20">1/2</text><text x="49" y="0" font-size="34">/ mVs</text><text x="137" y="-18.5" font-size="20">-1</text></g>
<g transform="translate(1078 243.3) scale(0.855 1)" class="ttl"><text x="0" y="0" font-size="23">I = -1.06E</text><text x="97" y="-11" font-size="12">-6</text><text x="114" y="0" font-size="23" font-style="italic">&#957;</text><text x="131" y="0" font-size="23">+ 1.75E</text><text x="203" y="-13" font-size="12">-7</text></g>
<g transform="translate(1088 275.1) scale(0.87 1)" class="ttl"><text x="0" y="0" font-size="23">R</text><text x="16" y="-11" font-size="12">2</text><text x="26" y="0" font-size="23">= 0.999</text></g>
</svg>
</body></html>
